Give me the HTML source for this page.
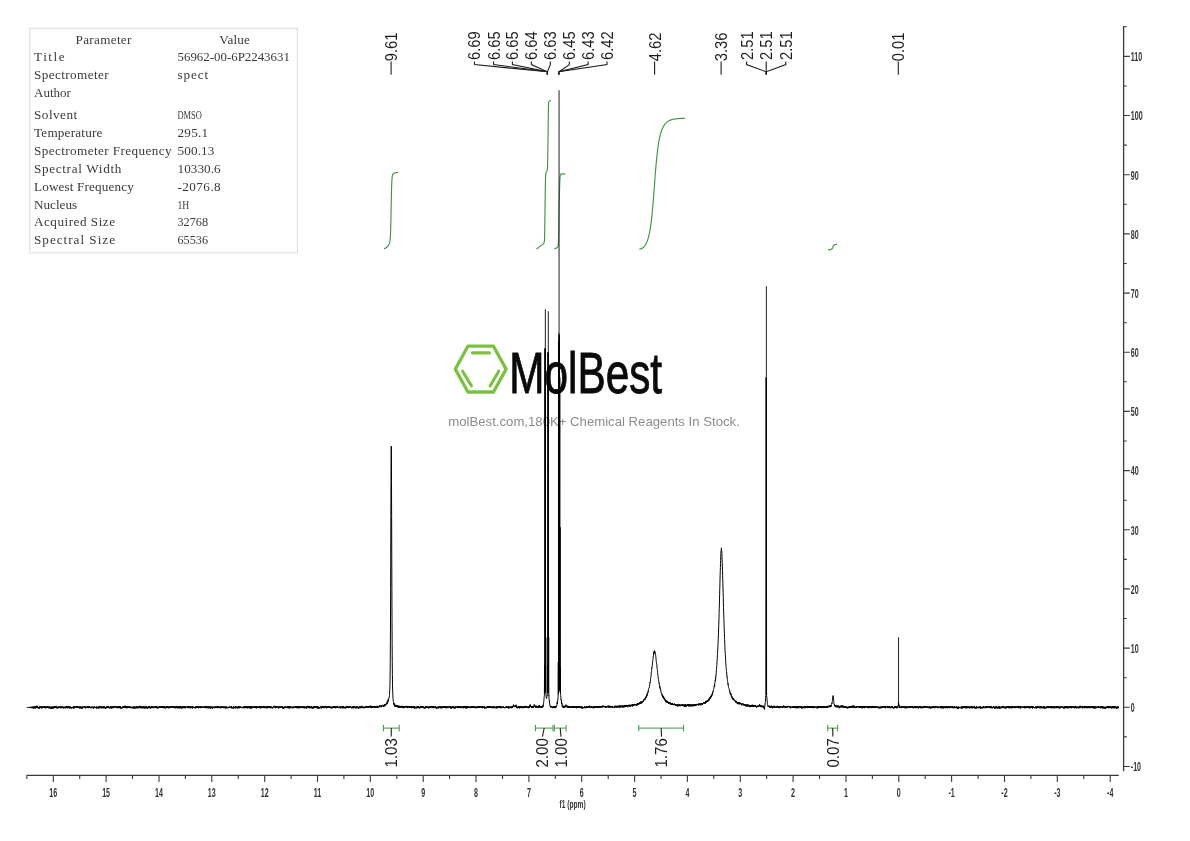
<!DOCTYPE html>
<html lang="en"><head><meta charset="utf-8"><title>1H NMR 56962-00-6P2243631</title>
<style>
html,body{margin:0;padding:0;background:#fff;}
body{width:1190px;height:841px;overflow:hidden;position:relative;font-family:"Liberation Sans",sans-serif;}
svg{position:absolute;left:0;top:0;display:block;will-change:transform;}
text{font-family:"Liberation Sans",sans-serif;}
.ax{fill:#333;font-size:13.4px;font-weight:bold;}
.pk{fill:#1e1e1e;font-size:15.8px;}
.tb{font-family:"Liberation Serif","Noto Serif CJK SC",serif;font-size:13.2px;fill:#3a3a3a;}
</style></head><body>
<svg width="1190" height="841" viewBox="0 0 1190 841">
<rect width="1190" height="841" fill="#fff"/>
<rect x="29.8" y="28.3" width="267.6" height="224.5" fill="#fff" stroke="#dedede" stroke-width="1.1"/>
<text class="tb" x="103.5" y="43.9" text-anchor="middle" textLength="55.8" lengthAdjust="spacing">Parameter</text>
<text class="tb" x="234.6" y="43.9" text-anchor="middle" textLength="30.6" lengthAdjust="spacing">Value</text>
<text class="tb" x="34.0" y="61.3" text-anchor="start" textLength="30.6" lengthAdjust="spacing">Title</text>
<text class="tb" x="177.5" y="61.3" text-anchor="start" textLength="112.4" lengthAdjust="spacingAndGlyphs">56962-00-6P2243631</text>
<text class="tb" x="34.0" y="79.2" text-anchor="start" textLength="74.7" lengthAdjust="spacing">Spectrometer</text>
<text class="tb" x="177.5" y="79.2" text-anchor="start" textLength="30.6" lengthAdjust="spacing">spect</text>
<text class="tb" x="34.0" y="97.3" text-anchor="start" textLength="36.9" lengthAdjust="spacingAndGlyphs">Author</text>
<text class="tb" x="34.0" y="119.2" text-anchor="start" textLength="43.2" lengthAdjust="spacing">Solvent</text>
<text class="tb" x="177.5" y="119.2" text-anchor="start" textLength="24.4" lengthAdjust="spacingAndGlyphs">DMSO</text>
<text class="tb" x="34.0" y="137.3" text-anchor="start" textLength="68.4" lengthAdjust="spacing">Temperature</text>
<text class="tb" x="177.5" y="137.3" text-anchor="start" textLength="30.6" lengthAdjust="spacing">295.1</text>
<text class="tb" x="34.0" y="155.1" text-anchor="start" textLength="137.6" lengthAdjust="spacing">Spectrometer Frequency</text>
<text class="tb" x="177.5" y="155.1" text-anchor="start" textLength="36.9" lengthAdjust="spacing">500.13</text>
<text class="tb" x="34.0" y="172.6" text-anchor="start" textLength="87.3" lengthAdjust="spacing">Spectral Width</text>
<text class="tb" x="177.5" y="172.6" text-anchor="start" textLength="43.2" lengthAdjust="spacing">10330.6</text>
<text class="tb" x="34.0" y="190.8" text-anchor="start" textLength="99.8" lengthAdjust="spacing">Lowest Frequency</text>
<text class="tb" x="177.5" y="190.8" text-anchor="start" textLength="43.2" lengthAdjust="spacing">-2076.8</text>
<text class="tb" x="34.0" y="208.6" text-anchor="start" textLength="43.2" lengthAdjust="spacingAndGlyphs">Nucleus</text>
<text class="tb" x="177.5" y="208.6" text-anchor="start" textLength="11.8" lengthAdjust="spacingAndGlyphs">1H</text>
<text class="tb" x="34.0" y="226.4" text-anchor="start" textLength="81.0" lengthAdjust="spacing">Acquired Size</text>
<text class="tb" x="177.5" y="226.4" text-anchor="start" textLength="30.6" lengthAdjust="spacingAndGlyphs">32768</text>
<text class="tb" x="34.0" y="244.2" text-anchor="start" textLength="81.0" lengthAdjust="spacing">Spectral Size</text>
<text class="tb" x="177.5" y="244.2" text-anchor="start" textLength="30.6" lengthAdjust="spacingAndGlyphs">65536</text>
<g fill="none" stroke="#7ac142" stroke-width="3.3" stroke-linejoin="round" stroke-linecap="round">
<polygon points="455.3,369.1 467.9,346.2 493.5,346.2 506.1,369.1 493.5,392 467.9,392"/>
<path d="M472.5,352.9H489.5M462.6,371.2L471.4,385.8M498.8,371.2L490.2,385.8" stroke-width="3.1"/>
</g>
<text x="509.3" y="393.4" font-size="57.8" fill="#0a0a0a" stroke="#0a0a0a" stroke-width="0.9" textLength="152.8" lengthAdjust="spacingAndGlyphs">MolBest</text>
<text x="448.3" y="425.8" font-size="12.2" fill="#8c8c8c" textLength="291.5" lengthAdjust="spacingAndGlyphs">molBest.com,180K+ Chemical Reagents In Stock.</text>
<g fill="none" stroke="#3f963f" stroke-width="1.15">
<path d="M383.90,248.9 384.15,248.8 384.40,248.7 384.65,248.6 384.90,248.5 385.15,248.3 385.40,248.2 385.65,248.0 385.90,247.9 386.15,247.7 386.40,247.5 386.65,247.3 386.90,247.0 387.15,246.8 387.40,246.5 387.65,246.3 387.90,245.9 388.15,245.6 388.40,245.2 388.65,244.8 388.90,244.4 389.15,243.9 389.40,243.3 389.65,242.5 389.90,241.4 390.15,239.5 390.40,236.1 390.65,229.8 390.90,219.8 391.15,207.1 391.40,194.7 391.65,185.6 391.90,180.0 392.15,177.1 392.40,175.6 392.65,174.8 392.90,174.3 393.15,173.9 393.40,173.6 393.65,173.5 393.90,173.3 394.15,173.2 394.40,173.1 394.65,173.0 394.90,173.0 395.15,172.9 395.40,172.9 395.65,172.8 395.90,172.8 396.15,172.7 396.40,172.7 396.65,172.6 396.90,172.6 397.15,172.6 397.40,172.6 397.65,172.5 397.90,172.5 398.15,172.5"/>
<path d="M536.50,249.0 536.75,248.9 537.00,248.7 537.25,248.5 537.50,248.3 537.75,248.2 538.00,248.0 538.25,247.8 538.50,247.6 538.75,247.4 539.00,247.1 539.25,246.8 539.50,246.6 539.75,246.4 540.00,246.3 540.25,246.1 540.50,245.9 540.75,245.8 541.00,245.6 541.25,245.4 541.50,245.3 541.75,245.1 542.00,244.9 542.25,244.7 542.50,244.6 542.75,244.4 543.00,244.2 543.25,243.9 543.50,243.6 543.75,243.2 544.00,242.9 544.25,242.0 544.50,239.2 544.75,229.7 545.00,211.7 545.25,192.9 545.50,179.2 545.75,174.4 546.00,172.8 546.25,172.3 546.50,171.9 546.75,171.5 547.00,171.0 547.25,170.1 547.50,167.2 547.75,157.7 548.00,138.3 548.25,117.4 548.50,105.8 548.75,102.2 549.00,101.4 549.25,101.1 549.50,100.9 549.75,100.7 550.00,100.7 550.25,100.6 550.50,100.6 550.75,100.6 551.00,100.6"/>
<path d="M554.30,249.1 554.55,248.9 554.80,248.8 555.05,248.7 555.30,248.6 555.55,248.4 555.80,248.3 556.05,248.2 556.30,248.0 556.55,247.9 556.80,247.7 557.05,247.6 557.30,247.4 557.55,247.1 557.80,246.9 558.05,246.3 558.30,244.4 558.55,237.5 558.80,223.8 559.05,207.1 559.30,197.0 559.55,189.2 559.80,181.8 560.05,177.1 560.30,175.1 560.55,174.5 560.80,174.3 561.05,174.1 561.30,174.0 561.55,174.0 561.80,173.9 562.05,173.9 562.30,173.9 562.55,173.9 562.80,173.9 563.05,173.9 563.30,173.9 563.55,173.9 563.80,173.9 564.05,173.9 564.30,174.0 564.55,174.0 564.80,174.0 565.05,174.0 565.30,174.0 565.55,174.0"/>
<path d="M639.20,249.3 639.45,249.2 639.70,249.2 639.95,249.1 640.20,249.1 640.45,249.0 640.70,248.9 640.95,248.9 641.20,248.8 641.45,248.6 641.70,248.5 641.95,248.4 642.20,248.2 642.45,248.1 642.70,247.9 642.95,247.7 643.20,247.5 643.45,247.3 643.70,247.1 643.95,246.8 644.20,246.5 644.45,246.2 644.70,245.9 644.95,245.6 645.20,245.2 645.45,244.8 645.70,244.4 645.95,243.9 646.20,243.5 646.45,242.9 646.70,242.4 646.95,241.8 647.20,241.2 647.45,240.5 647.70,239.8 647.95,239.0 648.20,238.1 648.45,237.2 648.70,236.3 648.95,235.2 649.20,234.1 649.45,233.0 649.70,231.7 649.95,230.3 650.20,228.9 650.45,227.3 650.70,225.6 650.95,223.8 651.20,221.9 651.45,219.8 651.70,217.6 651.95,215.3 652.20,212.8 652.45,210.2 652.70,207.5 652.95,204.6 653.20,201.5 653.45,198.4 653.70,195.2 653.95,191.9 654.20,188.6 654.45,185.2 654.70,181.9 654.95,178.5 655.20,175.3 655.45,172.1 655.70,169.0 655.95,166.1 656.20,163.3 656.45,160.6 656.70,158.0 656.95,155.6 657.20,153.4 657.45,151.2 657.70,149.2 657.95,147.4 658.20,145.6 658.45,144.0 658.70,142.5 658.95,141.0 659.20,139.7 659.45,138.4 659.70,137.3 659.95,136.2 660.20,135.2 660.45,134.2 660.70,133.3 660.95,132.5 661.20,131.7 661.45,131.0 661.70,130.3 661.95,129.6 662.20,129.0 662.45,128.4 662.70,127.9 662.95,127.4 663.20,126.9 663.45,126.4 663.70,126.0 663.95,125.6 664.20,125.2 664.45,124.9 664.70,124.5 664.95,124.2 665.20,123.9 665.45,123.6 665.70,123.3 665.95,123.1 666.20,122.8 666.45,122.6 666.70,122.3 666.95,122.1 667.20,121.9 667.45,121.7 667.70,121.6 667.95,121.4 668.20,121.2 668.45,121.1 668.70,120.9 668.95,120.8 669.20,120.7 669.45,120.5 669.70,120.4 669.95,120.3 670.20,120.2 670.45,120.1 670.70,120.0 670.95,119.9 671.20,119.8 671.45,119.7 671.70,119.7 671.95,119.6 672.20,119.5 672.45,119.5 672.70,119.4 672.95,119.3 673.20,119.3 673.45,119.2 673.70,119.2 673.95,119.1 674.20,119.1 674.45,119.0 674.70,119.0 674.95,119.0 675.20,118.9 675.45,118.9 675.70,118.8 675.95,118.8 676.20,118.8 676.45,118.8 676.70,118.7 676.95,118.7 677.20,118.7 677.45,118.7 677.70,118.6 677.95,118.6 678.20,118.6 678.45,118.6 678.70,118.6 678.95,118.5 679.20,118.5 679.45,118.5 679.70,118.5 679.95,118.5 680.20,118.5 680.45,118.4 680.70,118.4 680.95,118.4 681.20,118.4 681.45,118.4 681.70,118.4 681.95,118.4 682.20,118.3 682.45,118.3 682.70,118.3 682.95,118.3 683.20,118.3 683.45,118.3 683.70,118.3 683.95,118.3 684.20,118.2 684.45,118.2 684.70,118.2 684.95,118.2"/>
<path d="M828.00,249.8 828.25,249.8 828.50,249.8 828.75,249.8 829.00,249.7 829.25,249.7 829.50,249.7 829.75,249.7 830.00,249.6 830.25,249.6 830.50,249.5 830.75,249.5 831.00,249.4 831.25,249.3 831.50,249.2 831.75,249.0 832.00,248.8 832.25,248.4 832.50,248.0 832.75,247.4 833.00,246.7 833.25,246.1 833.50,245.7 833.75,245.4 834.00,245.1 834.25,244.9 834.50,244.8 834.75,244.7 835.00,244.6 835.25,244.6 835.50,244.5 835.75,244.5 836.00,244.5 836.25,244.4 836.50,244.4 836.75,244.4 837.00,244.4"/>
</g>
<path d="M27,707.3 27.125,707.1 27.25,707.2 27.375,707.5 27.5,707.5 27.625,707.1 27.75,707.6 27.875,707.2 28,707.2 28.125,707.4 28.25,707.5 28.375,707.4 28.5,707.5 28.625,707.4 28.75,707.4 28.875,707.3 29,707 29.125,707.2 29.25,707.3 29.375,707 29.5,707.7 29.625,707.6 29.75,707.2 29.875,707.8 30,707.7 30.125,707.2 30.25,707.3 30.375,706.8 30.5,707.1 30.625,707.2 30.75,707.2 30.875,707.5 31,707.9 31.125,707.8 31.25,707.1 31.375,707.8 31.5,707.6 31.625,708.2 31.75,706.9 31.875,708 32,707.8 32.125,706.8 32.25,707.5 32.375,706.8 32.5,707.1 32.625,706.9 32.75,708.3 32.875,707.3 33,707.4 33.125,706.6 33.25,707.7 33.375,707.1 33.5,708.4 33.625,707.7 33.75,707.7 33.875,708.2 34,706.7 34.125,707.7 34.25,706.4 34.375,707.4 34.5,707.5 34.625,707.4 34.75,707.3 34.875,708.4 35,707.7 35.125,708.1 35.25,707.8 35.375,708.3 35.5,706.5 35.625,708 35.75,706.9 35.875,707.5 36,706.1 36.125,706.5 36.25,707.6 36.375,706.1 36.5,705.8 36.625,706 36.75,706.7 36.875,707.6 37,707.5 37.125,705.9 37.25,707 37.375,707.9 37.5,706.5 37.625,707 37.75,707.2 37.875,707.6 38,707.7 38.125,708.1 38.25,708.5 38.375,706.9 38.5,707.6 38.625,707.6 38.75,707.9 38.875,707 39,708.5 39.125,707.7 39.25,708.5 39.375,708.3 39.5,706.5 39.625,707.2 39.75,707.7 39.875,707.5 40,706.8 40.125,707.9 40.25,707.4 40.375,707.1 40.5,707.8 40.625,707.4 40.75,706.8 40.875,706.4 41,708.1 41.125,706.3 41.25,708.2 41.375,706.6 41.5,706.4 41.625,707.9 41.75,707.3 41.875,706.7 42,708.4 42.125,707.2 42.25,706.8 42.375,707.3 42.5,706.8 42.625,707.9 42.75,708 42.875,707.6 43,707.9 43.125,707.5 43.25,706.3 43.375,707 43.5,707.2 43.625,707.4 43.75,706.2 43.875,707.3 44,706.1 44.125,707.1 44.25,707.1 44.375,706.3 44.5,706.8 44.625,707.2 44.75,707.5 44.875,706.6 45,707.7 45.125,706.7 45.25,708.4 45.375,707.8 45.5,707.6 45.625,706.7 45.75,708.2 45.875,707 46,707.2 46.125,707.1 46.25,707.1 46.375,706.3 46.5,707.7 46.625,707.4 46.75,707.8 46.875,708 47,707.6 47.125,706 47.25,706.3 47.375,707.9 47.5,706.8 47.625,707.1 47.75,706.9 47.875,706.8 48,707.5 48.125,706.2 48.25,707.4 48.375,707.1 48.5,707.1 48.625,708.1 48.75,708.3 48.875,707.5 49,706.8 49.125,706.7 49.25,707 49.375,708.3 49.5,706.6 49.625,706.8 49.75,706.6 49.875,707.4 50,706.7 50.125,708.4 50.25,708.6 50.375,708.8 50.5,708.3 50.625,708.2 50.75,708.3 50.875,707.4 51,708.5 51.125,707.4 51.25,708.3 51.375,707.1 51.5,708.5 51.625,708 51.75,706.5 51.875,707.2 52,706.7 52.125,707.1 52.25,707.2 52.375,708.1 52.5,707.4 52.625,708.4 52.75,706.9 52.875,706.6 53,706.9 53.125,708.6 53.25,707.9 53.375,707.9 53.5,708.2 53.625,707.1 53.75,706.7 53.875,707.7 54,706.5 54.125,706.7 54.25,707.9 54.375,706.6 54.5,706.2 54.625,707.6 54.75,706.8 54.875,706.8 55,706.9 55.125,708.1 55.25,706.9 55.375,707 55.5,706.6 55.625,706.7 55.75,707.5 55.875,706.7 56,706.4 56.125,706.3 56.25,708 56.375,708.3 56.5,706.9 56.625,707.9 56.75,707.1 56.875,706.3 57,707.6 57.125,707.8 57.25,707.6 57.375,707.2 57.5,708.4 57.625,707.9 57.75,708.3 57.875,707 58,706.7 58.125,707.5 58.25,707.5 58.375,707.2 58.5,707.8 58.625,707.7 58.75,707.4 58.875,707.1 59,707.9 59.125,706.3 59.25,706.8 59.375,707.5 59.5,708 59.625,706.6 59.75,707.9 59.875,707.9 60,708 60.125,708.2 60.25,706.5 60.375,707.9 60.5,707.8 60.625,706.8 60.75,707.2 60.875,708.1 61,707.7 61.125,706.6 61.25,707.6 61.375,706.9 61.5,708.1 61.625,706.7 61.75,706.4 61.875,706.4 62,706.7 62.125,707.4 62.25,708 62.375,707.1 62.5,706.6 62.625,708 62.75,707.8 62.875,707.2 63,706.9 63.125,706.8 63.25,708.5 63.375,708.3 63.5,707 63.625,707.3 63.75,707.3 63.875,706.6 64,706.8 64.125,706.9 64.25,707.2 64.375,708 64.5,707.4 64.625,708.2 64.75,706.9 64.875,707 65,707.1 65.125,707.6 65.25,707.6 65.375,707.5 65.5,708.3 65.625,706.5 65.75,707 65.875,707.3 66,706.9 66.125,706.7 66.25,707.5 66.375,706.6 66.5,706.4 66.625,707.6 66.75,708.1 66.875,706.7 67,706.2 67.125,708.1 67.25,706.9 67.375,706.6 67.5,706.5 67.625,708.2 67.75,708.1 67.875,706.2 68,707.9 68.125,707.9 68.25,707 68.375,707.3 68.5,706.7 68.625,707.8 68.75,706.4 68.875,707.9 69,706.7 69.125,708.2 69.25,707.5 69.375,708.3 69.5,707.7 69.625,707.6 69.75,706.8 69.875,707.4 70,708.2 70.125,706.2 70.25,706.4 70.375,706.4 70.5,707.8 70.625,707.6 70.75,707.9 70.875,708.2 71,708.4 71.125,707.5 71.25,708.3 71.375,708.3 71.5,707 71.625,707.7 71.75,708.3 71.875,707.2 72,708.1 72.125,707.5 72.25,707.9 72.375,707.4 72.5,707.1 72.625,707.4 72.75,707.8 72.875,707 73,706.8 73.125,708.3 73.25,708.3 73.375,708.3 73.5,706.5 73.625,706.6 73.75,708.1 73.875,706.5 74,708.1 74.125,707.4 74.25,707.3 74.375,706.3 74.5,708.1 74.625,707.6 74.75,707.1 74.875,708.2 75,707.8 75.125,707.4 75.25,706.5 75.375,706.8 75.5,706.7 75.625,706.8 75.75,706.9 75.875,706.5 76,706.8 76.125,706.6 76.25,707.5 76.375,707.8 76.5,706.6 76.625,707.7 76.75,706.1 76.875,706.8 77,707.2 77.125,706.1 77.25,707.8 77.375,707.1 77.5,708.1 77.625,706.4 77.75,707.2 77.875,706.7 78,707.7 78.125,706.8 78.25,707 78.375,707.2 78.5,706.6 78.625,707.6 78.75,707.6 78.875,707 79,706.7 79.125,707.7 79.25,707 79.375,708.1 79.5,707.4 79.625,707 79.75,708.4 79.875,706.9 80,708.5 80.125,706.5 80.25,707.4 80.375,707.6 80.5,706.9 80.625,707.3 80.75,706.8 80.875,708.1 81,707.1 81.125,707.2 81.25,706.5 81.375,708.4 81.5,707.6 81.625,707.2 81.75,707.4 81.875,708.5 82,707.5 82.125,708.3 82.25,708.3 82.375,706.9 82.5,708.3 82.625,707.6 82.75,706.9 82.875,706.9 83,707.1 83.125,706.6 83.25,707.4 83.375,707 83.5,706.5 83.625,706.8 83.75,706.7 83.875,707.2 84,707 84.125,707.4 84.25,706.7 84.375,707.5 84.5,707.3 84.625,706.7 84.75,707.2 84.875,707.5 85,706.5 85.125,707.5 85.25,706.6 85.375,706.7 85.5,707.4 85.625,706.9 85.75,708.4 85.875,707.6 86,706.6 86.125,707.2 86.25,707.2 86.375,706.9 86.5,706.9 86.625,707 86.75,707.4 86.875,707.9 87,707.6 87.125,707.5 87.25,707.2 87.375,706.1 87.5,707.6 87.625,707.4 87.75,707.5 87.875,707.1 88,706.4 88.125,706.6 88.25,707.7 88.375,707.8 88.5,706.5 88.625,707.4 88.75,707 88.875,708.2 89,706.5 89.125,707.7 89.25,707.3 89.375,707.9 89.5,707.4 89.625,706.5 89.75,706.6 89.875,707.5 90,707 90.125,707.6 90.25,707.7 90.375,707.3 90.5,708 90.625,707.7 90.75,706.9 90.875,706.7 91,708.3 91.125,707 91.25,706.8 91.375,707.4 91.5,708 91.625,706.8 91.75,707.7 91.875,707 92,707.6 92.125,707.2 92.25,708 92.375,707.6 92.5,707.4 92.625,707.2 92.75,708.1 92.875,706.5 93,708 93.125,708 93.25,708.1 93.375,708.6 93.5,707.8 93.625,706.9 93.75,707.1 93.875,708.1 94,708.2 94.125,707.9 94.25,706.9 94.375,707.4 94.5,706.5 94.625,707 94.75,707.1 94.875,706.7 95,706.8 95.125,707.7 95.25,707.8 95.375,707.3 95.5,707.2 95.625,707.9 95.75,707.3 95.875,707 96,708.1 96.125,708.1 96.25,708.1 96.375,707.9 96.5,706.5 96.625,708.4 96.75,708.2 96.875,708.1 97,707.5 97.125,708.5 97.25,707.5 97.375,708 97.5,707.8 97.625,706.8 97.75,708 97.875,707.1 98,707.5 98.125,707.5 98.25,706.6 98.375,708.2 98.5,706.6 98.625,706.6 98.75,707 98.875,708.4 99,707.1 99.125,707.2 99.25,706.9 99.375,707.9 99.5,706.4 99.625,706.5 99.75,708.1 99.875,707.6 100,708.2 100.125,706.5 100.25,706.3 100.375,706.2 100.5,706.9 100.625,706.9 100.75,706.8 100.875,707.1 101,706.2 101.125,707.1 101.25,707.6 101.375,707.3 101.5,708.3 101.625,706.8 101.75,707.1 101.875,707.6 102,706.6 102.125,706.9 102.25,707.8 102.375,708.3 102.5,708.2 102.625,708 102.75,707.8 102.875,707.5 103,706.6 103.125,708 103.25,706.5 103.375,706.9 103.5,706.6 103.625,707.4 103.75,708.3 103.875,706.7 104,707.8 104.125,708.1 104.25,706.8 104.375,706.9 104.5,708 104.625,707.8 104.75,706.6 104.875,708 105,707.1 105.125,708.3 105.25,707 105.375,708.4 105.5,707.6 105.625,708.6 105.75,707.5 105.875,706.9 106,708.4 106.125,708 106.25,707 106.375,707.3 106.5,707.9 106.625,707.1 106.75,707.3 106.875,706.4 107,707.5 107.125,706.5 107.25,706.7 107.375,706.6 107.5,707.4 107.625,706.6 107.75,706.6 107.875,707.2 108,708 108.125,706.2 108.25,706.8 108.375,707.9 108.5,706.9 108.625,707.8 108.75,707.4 108.875,706.6 109,707.5 109.125,708 109.25,707.9 109.375,708.4 109.5,708.1 109.625,707.9 109.75,708.1 109.875,708.3 110,707.4 110.125,707.9 110.25,706.8 110.375,706.4 110.5,707.7 110.625,707 110.75,707.2 110.875,708.1 111,708.1 111.125,706.5 111.25,707.3 111.375,706.7 111.5,708.3 111.625,707.2 111.75,706.6 111.875,706.6 112,708.4 112.125,707.3 112.25,707.6 112.375,706.8 112.5,708.1 112.625,707.7 112.75,706.6 112.875,707.4 113,707.4 113.125,706.3 113.25,707.6 113.375,708.1 113.5,707.4 113.625,707.8 113.75,708 113.875,706.9 114,706.1 114.125,706.9 114.25,706.7 114.375,707.2 114.5,706.7 114.625,706.3 114.75,706.7 114.875,706.3 115,706.9 115.125,707.7 115.25,706.8 115.375,707.1 115.5,707.8 115.625,706.9 115.75,706.5 115.875,708 116,707.1 116.125,706.7 116.25,707.4 116.375,707.8 116.5,707.5 116.625,707 116.75,706.8 116.875,707 117,708 117.125,706.5 117.25,706.3 117.375,708.1 117.5,707.9 117.625,708 117.75,706.6 117.875,706.4 118,708.2 118.125,707.7 118.25,707.9 118.375,707.3 118.5,706.4 118.625,708.2 118.75,707.8 118.875,707.1 119,707 119.125,706.4 119.25,707.2 119.375,707.9 119.5,707.5 119.625,706.2 119.75,706.7 119.875,708 120,706.6 120.125,707.7 120.25,706.8 120.375,708.4 120.5,706.5 120.625,708.2 120.75,707.4 120.875,706.9 121,707.4 121.125,708.1 121.25,708.2 121.375,708 121.5,708.4 121.625,708 121.75,708.1 121.875,707.4 122,707.7 122.125,707.1 122.25,707.8 122.375,708.3 122.5,707.5 122.625,706.7 122.75,707.7 122.875,707.3 123,706.5 123.125,707.3 123.25,706.4 123.375,706.3 123.5,707.6 123.625,706.8 123.75,707.7 123.875,707.9 124,707.3 124.125,706.8 124.25,706 124.375,707.7 124.5,706.5 124.625,706.8 124.75,707.5 124.875,705.8 125,706.4 125.125,707.5 125.25,705.9 125.375,707.6 125.5,707.6 125.625,707.3 125.75,706.1 125.875,708 126,706.3 126.125,707 126.25,708.2 126.375,707.1 126.5,707.5 126.625,707.2 126.75,706.9 126.875,707.1 127,706.4 127.125,708.2 127.25,706.8 127.375,707.8 127.5,706.9 127.625,706.7 127.75,706.5 127.875,708 128,707.5 128.125,706.6 128.25,706.5 128.375,707.7 128.5,706.4 128.625,707.6 128.75,707.6 128.875,706.6 129,707.1 129.125,707.2 129.25,707.4 129.375,707.2 129.5,707.9 129.625,708.1 129.75,706.6 129.875,707 130,706.9 130.125,706.5 130.25,707.8 130.375,707.8 130.5,707.8 130.625,707.8 130.75,706.9 130.875,707.6 131,707.7 131.125,707 131.25,708 131.375,708.1 131.5,706.8 131.625,706.8 131.75,707.8 131.875,707 132,708.2 132.125,707.5 132.25,707.1 132.375,707.8 132.5,707.7 132.625,707.3 132.75,707.2 132.875,708.1 133,707.1 133.125,708.3 133.25,706.5 133.375,708.3 133.5,708.2 133.625,708.2 133.75,706.5 133.875,707.9 134,707.2 134.125,706.3 134.25,706.5 134.375,708.4 134.5,707.2 134.625,707 134.75,706.8 134.875,707.5 135,707.5 135.125,708.3 135.25,708.2 135.375,707.2 135.5,708.2 135.625,708 135.75,707.6 135.875,708.2 136,708.4 136.125,706.4 136.25,707.4 136.375,707.9 136.5,706.8 136.625,708.1 136.75,707.6 136.875,706.2 137,706.3 137.125,706.9 137.25,708 137.375,707.5 137.5,708.2 137.625,707.8 137.75,708.2 137.875,708 138,706.9 138.125,708.1 138.25,708.1 138.375,706.4 138.5,707.5 138.625,707.4 138.75,707.9 138.875,706.5 139,706.7 139.125,706.9 139.25,706.7 139.375,707.7 139.5,707.5 139.625,706.7 139.75,705.8 139.875,706.2 140,706.8 140.125,707.1 140.25,708.2 140.375,706.3 140.5,708.1 140.625,708 140.75,706.9 140.875,706.7 141,706.7 141.125,707.4 141.25,708.1 141.375,708.3 141.5,706.5 141.625,706.2 141.75,707.7 141.875,706.4 142,707.3 142.125,707.5 142.25,707.1 142.375,708.2 142.5,707.3 142.625,707.8 142.75,706.8 142.875,707.3 143,706.5 143.125,706.5 143.25,707.6 143.375,707.7 143.5,706.4 143.625,707.4 143.75,708.2 143.875,708.4 144,706.5 144.125,707.3 144.25,708.4 144.375,707.4 144.5,707.4 144.625,707.6 144.75,706.6 144.875,706.6 145,708.4 145.125,708.1 145.25,707.6 145.375,706.6 145.5,707 145.625,706.8 145.75,707.2 145.875,707.9 146,706.6 146.125,708.3 146.25,706.8 146.375,707.9 146.5,707.3 146.625,706.2 146.75,707 146.875,708.2 147,707.4 147.125,707.1 147.25,708.3 147.375,707.9 147.5,708.5 147.625,707.4 147.75,707.7 147.875,707.5 148,707.9 148.125,707.2 148.25,708.2 148.375,706.4 148.5,706.3 148.625,707.2 148.75,707.3 148.875,706.5 149,707.6 149.125,706.4 149.25,707.5 149.375,706.6 149.5,707.5 149.625,707 149.75,706.4 149.875,708.2 150,706.7 150.125,707.4 150.25,707.6 150.375,707.8 150.5,708.4 150.625,708.1 150.75,707.3 150.875,708.3 151,707.1 151.125,706.4 151.25,706.3 151.375,706.6 151.5,706.5 151.625,707.7 151.75,706.1 151.875,707.7 152,706.3 152.125,706.3 152.25,706.8 152.375,707.1 152.5,707.8 152.625,707.1 152.75,707.6 152.875,708 153,708 153.125,706.7 153.25,706.4 153.375,707.9 153.5,708.2 153.625,707.6 153.75,707.8 153.875,707.6 154,706.8 154.125,707.2 154.25,707.3 154.375,707.7 154.5,706.8 154.625,707.6 154.75,707.3 154.875,707.3 155,706.3 155.125,707.7 155.25,706.7 155.375,707.5 155.5,706.4 155.625,707.5 155.75,707.1 155.875,706.4 156,706.7 156.125,707.9 156.25,707.9 156.375,706 156.5,708 156.625,707.5 156.75,706.2 156.875,708.3 157,707.9 157.125,707.8 157.25,708.1 157.375,707.4 157.5,707.2 157.625,707.8 157.75,708.3 157.875,706.8 158,706.9 158.125,707.3 158.25,708.2 158.375,707.3 158.5,707.1 158.625,707.5 158.75,706.6 158.875,707.5 159,707.2 159.125,708 159.25,707 159.375,706.6 159.5,706.6 159.625,707.6 159.75,706 159.875,706.6 160,707.2 160.125,707.2 160.25,706.4 160.375,707.7 160.5,706.8 160.625,706.7 160.75,707 160.875,706.1 161,707.1 161.125,707.1 161.25,707.5 161.375,706.1 161.5,707.5 161.625,706.6 161.75,707.3 161.875,706.1 162,706 162.125,707.9 162.25,706 162.375,706.9 162.5,708 162.625,707.1 162.75,708.1 162.875,707 163,707.7 163.125,707.4 163.25,707.6 163.375,707 163.5,706.6 163.625,706.3 163.75,707.4 163.875,706.9 164,708.2 164.125,707.5 164.25,706.3 164.375,708.1 164.5,706.5 164.625,707 164.75,707.7 164.875,706.8 165,707.9 165.125,706.6 165.25,708.4 165.375,708.3 165.5,707 165.625,707.6 165.75,708.2 165.875,707.3 166,707.8 166.125,707.2 166.25,706.8 166.375,706.5 166.5,708 166.625,706.9 166.75,706.2 166.875,707.2 167,706.6 167.125,708 167.25,706.4 167.375,707.1 167.5,706.4 167.625,706.6 167.75,706.4 167.875,708.1 168,706.9 168.125,708 168.25,707.8 168.375,707.8 168.5,707.1 168.625,707.1 168.75,706.4 168.875,708.4 169,708 169.125,707.7 169.25,706.7 169.375,707.2 169.5,707.2 169.625,706.6 169.75,706.7 169.875,707.4 170,707.8 170.125,707 170.25,706.1 170.375,706.6 170.5,707.8 170.625,707.1 170.75,707.2 170.875,706.8 171,706.9 171.125,706.1 171.25,707.5 171.375,707.4 171.5,707 171.625,706.4 171.75,706.8 171.875,707.3 172,706.6 172.125,707.2 172.25,706.2 172.375,707.5 172.5,707.9 172.625,706.3 172.75,707.5 172.875,706.3 173,706.8 173.125,707 173.25,707.9 173.375,706.5 173.5,708 173.625,706.2 173.75,706.4 173.875,707.6 174,707.9 174.125,706.4 174.25,707.2 174.375,708.1 174.5,707.3 174.625,707.9 174.75,707.6 174.875,707 175,706.6 175.125,706.9 175.25,708.2 175.375,707.5 175.5,707.5 175.625,706.4 175.75,708.2 175.875,707.2 176,706.3 176.125,707.2 176.25,707.6 176.375,707.1 176.5,707.5 176.625,706.2 176.75,708 176.875,707.8 177,708.1 177.125,706.8 177.25,707.7 177.375,706.5 177.5,706.6 177.625,706.6 177.75,707.8 177.875,708.3 178,707.5 178.125,706.2 178.25,706.7 178.375,708.1 178.5,706.8 178.625,706.4 178.75,706.4 178.875,706.8 179,706.5 179.125,706.6 179.25,707.6 179.375,708.2 179.5,707 179.625,708.3 179.75,707.7 179.875,706.4 180,707.2 180.125,707.3 180.25,706.4 180.375,707.8 180.5,706.3 180.625,706.5 180.75,707.6 180.875,707.8 181,708.2 181.125,706.6 181.25,708.1 181.375,708.5 181.5,706.6 181.625,707.2 181.75,707 181.875,706.9 182,708.3 182.125,708.2 182.25,707.4 182.375,708.2 182.5,707.2 182.625,706.6 182.75,706.9 182.875,706.9 183,708 183.125,707.6 183.25,706.3 183.375,707.9 183.5,707.1 183.625,708.1 183.75,706.2 183.875,707.8 184,707.3 184.125,707.1 184.25,706.7 184.375,706.3 184.5,706.8 184.625,707.6 184.75,708.1 184.875,706.8 185,706.3 185.125,708.3 185.25,706.6 185.375,708 185.5,707.3 185.625,707.2 185.75,707 185.875,706.2 186,706.8 186.125,707.5 186.25,706.9 186.375,707.3 186.5,707.5 186.625,707.5 186.75,707.4 186.875,707.8 187,707.8 187.125,707.8 187.25,707.2 187.375,707.6 187.5,706.5 187.625,706.4 187.75,707.4 187.875,706.8 188,706.2 188.125,707.4 188.25,706.9 188.375,707.2 188.5,706.8 188.625,706.3 188.75,708.1 188.875,706.3 189,707 189.125,706.8 189.25,707.2 189.375,706.7 189.5,707.7 189.625,706.9 189.75,707.8 189.875,707.4 190,707.1 190.125,708.1 190.25,708.3 190.375,706.7 190.5,706.5 190.625,706.7 190.75,707.3 190.875,706.7 191,707.9 191.125,706.8 191.25,707 191.375,706.8 191.5,707.2 191.625,707.7 191.75,706.7 191.875,707.3 192,706.9 192.125,707.7 192.25,708.4 192.375,707.3 192.5,707.1 192.625,706.4 192.75,706.4 192.875,708.2 193,706.8 193.125,707.8 193.25,706.8 193.375,707.5 193.5,707.6 193.625,707.3 193.75,707.1 193.875,706.9 194,707 194.125,707.1 194.25,707.9 194.375,707.1 194.5,707.7 194.625,707.2 194.75,707.4 194.875,707.1 195,708.3 195.125,707.2 195.25,707.8 195.375,707.4 195.5,708.2 195.625,706.8 195.75,706.2 195.875,707.3 196,707.8 196.125,706.7 196.25,707.9 196.375,706.3 196.5,708 196.625,707.5 196.75,707.2 196.875,708 197,707.5 197.125,707.5 197.25,706.6 197.375,706.1 197.5,707.6 197.625,706.6 197.75,708 197.875,707.1 198,707.4 198.125,707.8 198.25,706.7 198.375,707 198.5,708.3 198.625,708.1 198.75,706.9 198.875,706.5 199,707.2 199.125,706.7 199.25,706.4 199.375,706.9 199.5,707.1 199.625,708 199.75,707.5 199.875,706.8 200,706.3 200.125,707.5 200.25,707.3 200.375,708.1 200.5,706.5 200.625,707.1 200.75,706.3 200.875,707.5 201,706.6 201.125,706.6 201.25,707.2 201.375,707.9 201.5,707.3 201.625,706.7 201.75,708 201.875,708.1 202,707.5 202.125,708 202.25,706.9 202.375,706.9 202.5,706.6 202.625,706.7 202.75,707.1 202.875,708 203,706.8 203.125,706.9 203.25,706.9 203.375,706.9 203.5,706.6 203.625,707.6 203.75,706.8 203.875,707.1 204,707.5 204.125,707.5 204.25,707.8 204.375,707 204.5,707.1 204.625,707.1 204.75,706.3 204.875,706.7 205,706.7 205.125,706 205.25,707.6 205.375,707.2 205.5,708.1 205.625,707.4 205.75,706.3 205.875,708.2 206,706.9 206.125,706.7 206.25,707.4 206.375,706.7 206.5,707.5 206.625,707.9 206.75,707.6 206.875,708.1 207,707.9 207.125,708 207.25,706.4 207.375,707.7 207.5,708 207.625,706.3 207.75,708.1 207.875,706.4 208,706.6 208.125,707.1 208.25,707.5 208.375,708.1 208.5,708.3 208.625,708.2 208.75,707.7 208.875,707.6 209,706.5 209.125,707.3 209.25,706.4 209.375,706.9 209.5,708.1 209.625,707.2 209.75,708 209.875,708.2 210,706.2 210.125,707.6 210.25,708.1 210.375,708.3 210.5,707 210.625,707.4 210.75,708.3 210.875,706.9 211,707.8 211.125,706.7 211.25,707.4 211.375,707.3 211.5,707.7 211.625,707.2 211.75,706.5 211.875,706.9 212,708.4 212.125,707.6 212.25,708.2 212.375,708.6 212.5,708.5 212.625,708.3 212.75,706.7 212.875,707.1 213,706.7 213.125,707 213.25,707.8 213.375,707.6 213.5,707.5 213.625,707.8 213.75,707.5 213.875,706.8 214,708.1 214.125,707.8 214.25,707.3 214.375,706.8 214.5,706.8 214.625,706.7 214.75,708.1 214.875,707.8 215,707.6 215.125,707.8 215.25,706.7 215.375,706.2 215.5,706.8 215.625,708.1 215.75,707.6 215.875,706.6 216,706.3 216.125,707 216.25,707.5 216.375,707.5 216.5,706.9 216.625,706.4 216.75,707.4 216.875,707.7 217,708.1 217.125,707.9 217.25,706.4 217.375,706.8 217.5,706 217.625,708 217.75,707.4 217.875,706.6 218,706.8 218.125,708.1 218.25,707.4 218.375,706.9 218.5,706.8 218.625,707.1 218.75,707.7 218.875,706.2 219,707.2 219.125,706.7 219.25,707.1 219.375,708 219.5,707.6 219.625,708 219.75,707.9 219.875,707.9 220,707.5 220.125,707.7 220.25,707.7 220.375,706.7 220.5,708.3 220.625,708.2 220.75,706.7 220.875,707.2 221,707.4 221.125,707.8 221.25,707.2 221.375,707.8 221.5,706.5 221.625,706.6 221.75,707.5 221.875,708.1 222,706.4 222.125,707.6 222.25,706.9 222.375,706.5 222.5,706.8 222.625,706.6 222.75,707.3 222.875,706.6 223,707.4 223.125,707.8 223.25,707.4 223.375,707.8 223.5,706.8 223.625,706.7 223.75,708.1 223.875,708 224,707.5 224.125,707.4 224.25,706.3 224.375,706.4 224.5,706.4 224.625,706.9 224.75,707 224.875,707.8 225,707.6 225.125,708.4 225.25,706.7 225.375,707.8 225.5,708.1 225.625,707.7 225.75,707.7 225.875,706.8 226,708.4 226.125,707.8 226.25,706.5 226.375,706.7 226.5,707.1 226.625,707.2 226.75,708 226.875,706.7 227,707 227.125,707.4 227.25,708.2 227.375,708 227.5,707.6 227.625,707.7 227.75,708.2 227.875,707.4 228,707.4 228.125,707.7 228.25,707.6 228.375,707.6 228.5,707.6 228.625,707.1 228.75,707.3 228.875,707.9 229,706.7 229.125,707.3 229.25,707.4 229.375,706.9 229.5,706.8 229.625,706.6 229.75,706.5 229.875,706.7 230,706.6 230.125,707.8 230.25,706.7 230.375,707.6 230.5,707.7 230.625,707.8 230.75,707.2 230.875,708 231,706.7 231.125,706.6 231.25,706.5 231.375,708 231.5,706.8 231.625,706.4 231.75,708.2 231.875,708 232,707.9 232.125,707.6 232.25,708.4 232.375,707.6 232.5,708 232.625,707.2 232.75,707.5 232.875,707.3 233,708.2 233.125,707.2 233.25,707.1 233.375,707 233.5,708.3 233.625,706.4 233.75,707.1 233.875,707.8 234,707.5 234.125,707.4 234.25,707.4 234.375,708 234.5,707.9 234.625,707.6 234.75,706.8 234.875,707.5 235,708.4 235.125,707.5 235.25,708 235.375,708.2 235.5,706.3 235.625,707.6 235.75,707.2 235.875,707.5 236,708.1 236.125,706.4 236.25,706.2 236.375,707.8 236.5,707.2 236.625,707.3 236.75,707.7 236.875,706.9 237,706.6 237.125,706.8 237.25,707 237.375,708.4 237.5,707.9 237.625,707.3 237.75,706.8 237.875,707.5 238,707.4 238.125,706.6 238.25,708.4 238.375,707.7 238.5,707.6 238.625,706.1 238.75,707.6 238.875,708.1 239,707.4 239.125,707.1 239.25,708.2 239.375,706.6 239.5,708 239.625,706.8 239.75,708 239.875,706.5 240,707.9 240.125,706.9 240.25,706.6 240.375,707.7 240.5,708 240.625,707 240.75,707.2 240.875,707.4 241,706.8 241.125,707.5 241.25,707.5 241.375,707.5 241.5,707.5 241.625,707.6 241.75,708.1 241.875,707.8 242,707.9 242.125,707.9 242.25,706.8 242.375,708.1 242.5,707.8 242.625,707.1 242.75,707.6 242.875,707.8 243,707.6 243.125,707.4 243.25,707.1 243.375,706.4 243.5,706.7 243.625,707.6 243.75,707.6 243.875,707.7 244,708 244.125,706.6 244.25,708.3 244.375,708.1 244.5,707 244.625,707.2 244.75,707.8 244.875,706.4 245,707.5 245.125,707 245.25,708.1 245.375,706.3 245.5,707.9 245.625,707.2 245.75,706.3 245.875,706 246,706.2 246.125,706.4 246.25,707.6 246.375,708 246.5,707.1 246.625,707.9 246.75,706.1 246.875,708.1 247,707.6 247.125,707.9 247.25,708.3 247.375,707.3 247.5,708.1 247.625,706.3 247.75,706.9 247.875,707.5 248,706.6 248.125,706.6 248.25,707.6 248.375,706.6 248.5,706.4 248.625,707.1 248.75,707.5 248.875,706.5 249,706.5 249.125,707.7 249.25,708.3 249.375,706.7 249.5,707.1 249.625,708.1 249.75,707.4 249.875,707.8 250,706.5 250.125,707.7 250.25,708.1 250.375,708.4 250.5,707.7 250.625,706.4 250.75,707.9 250.875,707.4 251,706.3 251.125,708.3 251.25,707.7 251.375,706.7 251.5,708.3 251.625,706.4 251.75,706.6 251.875,708.1 252,707 252.125,707.1 252.25,706.8 252.375,707.7 252.5,707.5 252.625,707.9 252.75,707.8 252.875,708 253,706.4 253.125,706.6 253.25,707.7 253.375,706.9 253.5,707.3 253.625,707.8 253.75,707.6 253.875,706.3 254,707.6 254.125,707 254.25,706.3 254.375,707.7 254.5,706.6 254.625,708 254.75,706.6 254.875,706.5 255,706.5 255.125,706.2 255.25,706.8 255.375,706.3 255.5,707.7 255.625,707.1 255.75,707.8 255.875,708.1 256,707.4 256.125,706.7 256.25,706.7 256.375,708.4 256.5,706.5 256.625,707.9 256.75,707.9 256.875,706.7 257,706.6 257.125,707 257.25,707.8 257.375,707.5 257.5,706.6 257.625,707.6 257.75,706.7 257.875,706.8 258,707.5 258.125,706.6 258.25,707.5 258.375,706.7 258.5,706.9 258.625,707.5 258.75,707 258.875,706.9 259,707.1 259.125,708 259.25,706.1 259.375,706.1 259.5,708 259.625,706 259.75,707.1 259.875,708.1 260,706.6 260.125,707.6 260.25,707 260.375,706.8 260.5,707.4 260.625,708.3 260.75,706.8 260.875,707 261,706.4 261.125,707.9 261.25,706.7 261.375,706.4 261.5,707.5 261.625,707.2 261.75,707.4 261.875,708.1 262,707.7 262.125,707.5 262.25,707.9 262.375,706.4 262.5,707.2 262.625,706.9 262.75,707.5 262.875,707.2 263,706.4 263.125,707 263.25,706.8 263.375,707.2 263.5,706.9 263.625,706.2 263.75,707.6 263.875,707.2 264,706.9 264.125,708.1 264.25,706.3 264.375,707.4 264.5,708 264.625,707 264.75,706.9 264.875,707.1 265,706.5 265.125,708.2 265.25,707.3 265.375,706.9 265.5,706.6 265.625,707.2 265.75,707.3 265.875,707.6 266,707.3 266.125,707.2 266.25,706.4 266.375,706.8 266.5,707 266.625,706.7 266.75,708.4 266.875,706.8 267,707.3 267.125,706.7 267.25,707.7 267.375,707.4 267.5,706.5 267.625,708.2 267.75,707.7 267.875,707.2 268,706.4 268.125,707.7 268.25,706.5 268.375,707.8 268.5,707.7 268.625,707.1 268.75,706.9 268.875,706.3 269,706.4 269.125,707.8 269.25,706.8 269.375,707 269.5,707.6 269.625,706.7 269.75,706.5 269.875,707.4 270,706.5 270.125,708.2 270.25,708.1 270.375,706.9 270.5,707.8 270.625,707.3 270.75,707.4 270.875,708.2 271,706.9 271.125,706.8 271.25,708 271.375,707.8 271.5,706.7 271.625,706.6 271.75,706.7 271.875,707.5 272,707.9 272.125,707.6 272.25,708.2 272.375,707.4 272.5,707.9 272.625,708.1 272.75,707.7 272.875,708.3 273,707.4 273.125,706.9 273.25,706.8 273.375,706.1 273.5,706.2 273.625,706.8 273.75,706.1 273.875,707 274,706.3 274.125,707.3 274.25,706.7 274.375,705.8 274.5,706.6 274.625,706.8 274.75,706.2 274.875,707.3 275,706.2 275.125,707.9 275.25,707.7 275.375,707.7 275.5,707.7 275.625,706.3 275.75,708.3 275.875,707.7 276,707.2 276.125,706.7 276.25,706.6 276.375,707.2 276.5,707.6 276.625,706.2 276.75,707.7 276.875,707.9 277,707.5 277.125,707 277.25,706 277.375,706.5 277.5,706.9 277.625,707 277.75,706.8 277.875,707 278,707.6 278.125,708.2 278.25,708 278.375,706.9 278.5,707.2 278.625,706.9 278.75,708.4 278.875,706.6 279,707.8 279.125,706.6 279.25,707.3 279.375,707.4 279.5,706.7 279.625,707 279.75,706.8 279.875,707.8 280,706.9 280.125,707.3 280.25,708 280.375,707.9 280.5,707.1 280.625,707.5 280.75,706.3 280.875,707.7 281,708 281.125,706 281.25,707.4 281.375,707.1 281.5,707.6 281.625,707.7 281.75,707.3 281.875,706.4 282,708 282.125,706.4 282.25,706.2 282.375,707 282.5,707.5 282.625,707.9 282.75,708.2 282.875,708 283,707 283.125,708.7 283.25,707.1 283.375,707.4 283.5,708.8 283.625,708.6 283.75,707.1 283.875,707.3 284,708 284.125,706.7 284.25,707.9 284.375,707.3 284.5,708 284.625,707 284.75,708.2 284.875,707.9 285,706.6 285.125,707.2 285.25,706.8 285.375,706.6 285.5,707 285.625,707.8 285.75,706.8 285.875,708 286,707.7 286.125,707.3 286.25,707.9 286.375,708 286.5,706.9 286.625,706.7 286.75,707.4 286.875,707.5 287,707.9 287.125,707.3 287.25,707.1 287.375,706.4 287.5,708.1 287.625,706.3 287.75,706.1 287.875,707.5 288,706.8 288.125,706.5 288.25,706.9 288.375,707.7 288.5,707 288.625,706.5 288.75,708.1 288.875,707.4 289,708.4 289.125,706.7 289.25,706.7 289.375,708.2 289.5,706.7 289.625,706.8 289.75,707.9 289.875,707.1 290,706.7 290.125,707.4 290.25,707.2 290.375,706.2 290.5,706.8 290.625,707.2 290.75,708.2 290.875,708.1 291,706.6 291.125,706.9 291.25,706.8 291.375,707.2 291.5,707.3 291.625,707.4 291.75,706.9 291.875,707.8 292,707.4 292.125,707.4 292.25,707 292.375,707.8 292.5,708.3 292.625,708.1 292.75,707.8 292.875,706.5 293,706.8 293.125,706.8 293.25,707.4 293.375,708.1 293.5,707.3 293.625,706.5 293.75,707.2 293.875,706.9 294,707.5 294.125,707.8 294.25,706.9 294.375,707.2 294.5,707.5 294.625,707.7 294.75,706.7 294.875,707.4 295,707 295.125,707.5 295.25,706.5 295.375,707.2 295.5,707.1 295.625,706.3 295.75,706.8 295.875,706.8 296,707.7 296.125,706.6 296.25,707.6 296.375,706.4 296.5,706.6 296.625,707.1 296.75,706.8 296.875,707.5 297,707 297.125,708.3 297.25,706.4 297.375,706.6 297.5,707.9 297.625,707.8 297.75,707.1 297.875,706.7 298,708 298.125,706.4 298.25,707.7 298.375,706.3 298.5,706.9 298.625,707.5 298.75,707.7 298.875,708.4 299,708.4 299.125,707.2 299.25,706.8 299.375,706.6 299.5,707.6 299.625,706.5 299.75,707.8 299.875,706.4 300,706.4 300.125,707.9 300.25,706.3 300.375,706.6 300.5,706.6 300.625,706.5 300.75,707.2 300.875,707.1 301,707.4 301.125,706.4 301.25,706.3 301.375,707.8 301.5,706.6 301.625,707.7 301.75,707.9 301.875,707.9 302,707.1 302.125,707.5 302.25,707.6 302.375,708 302.5,707.6 302.625,706.5 302.75,708.1 302.875,707.2 303,706.9 303.125,708.1 303.25,707.5 303.375,706.3 303.5,706.2 303.625,706.6 303.75,708 303.875,706.7 304,707.3 304.125,707.9 304.25,707.3 304.375,706.4 304.5,706.5 304.625,707.6 304.75,708.3 304.875,706.6 305,706.4 305.125,707.4 305.25,708 305.375,707.4 305.5,707 305.625,707.5 305.75,707.7 305.875,707.9 306,707.9 306.125,708.4 306.25,707.9 306.375,706.4 306.5,708.3 306.625,706.8 306.75,706.5 306.875,707.4 307,707 307.125,707.7 307.25,706.8 307.375,706.7 307.5,706.6 307.625,707 307.75,705.9 307.875,706.2 308,706.9 308.125,706.7 308.25,707.7 308.375,706.3 308.5,706.9 308.625,706.4 308.75,707.6 308.875,706.2 309,708.1 309.125,707.3 309.25,708.1 309.375,707.9 309.5,706.7 309.625,708.1 309.75,707.3 309.875,707.8 310,706.5 310.125,708.1 310.25,707.5 310.375,706.4 310.5,706.8 310.625,706.7 310.75,706.2 310.875,708.1 311,706.8 311.125,706.6 311.25,706.6 311.375,706.7 311.5,708 311.625,708 311.75,706.7 311.875,707.2 312,707.9 312.125,708.5 312.25,707.3 312.375,708.3 312.5,707 312.625,707.9 312.75,706.9 312.875,708.4 313,707.5 313.125,708.3 313.25,706.8 313.375,707.2 313.5,707.8 313.625,706.3 313.75,706.9 313.875,707.6 314,706.4 314.125,707.5 314.25,706.3 314.375,707.7 314.5,706.2 314.625,708.1 314.75,706.6 314.875,707.5 315,707.2 315.125,706.8 315.25,708 315.375,707.6 315.5,707.9 315.625,706.6 315.75,707.6 315.875,707.1 316,707.4 316.125,707.6 316.25,706.3 316.375,707.2 316.5,706.8 316.625,706.7 316.75,706.5 316.875,707.8 317,708.2 317.125,707.4 317.25,708 317.375,708.3 317.5,706.5 317.625,707.1 317.75,707.6 317.875,708.4 318,707 318.125,707.5 318.25,708.3 318.375,706.6 318.5,706.6 318.625,706.6 318.75,706.9 318.875,707.5 319,708 319.125,707.3 319.25,708.2 319.375,707.1 319.5,708.4 319.625,708.5 319.75,707.1 319.875,707.7 320,707.1 320.125,706.9 320.25,706.7 320.375,707.2 320.5,706.6 320.625,706.9 320.75,706.4 320.875,706.5 321,708.3 321.125,707.8 321.25,707.5 321.375,707.8 321.5,707.9 321.625,706.5 321.75,708.3 321.875,708 322,706.8 322.125,708 322.25,707.8 322.375,706.3 322.5,706.7 322.625,707.3 322.75,708 322.875,707.7 323,706.2 323.125,706.5 323.25,708 323.375,706.7 323.5,707.5 323.625,706.6 323.75,707.6 323.875,708 324,708.2 324.125,707.7 324.25,706.4 324.375,706.3 324.5,706.7 324.625,706.6 324.75,707.7 324.875,707.4 325,706.1 325.125,706 325.25,707.2 325.375,706.4 325.5,706.2 325.625,706 325.75,707.5 325.875,706.9 326,707.5 326.125,707.3 326.25,707.3 326.375,707.7 326.5,708.3 326.625,706.7 326.75,706.7 326.875,706.5 327,707.9 327.125,707.8 327.25,707.1 327.375,706.3 327.5,707.3 327.625,708 327.75,707 327.875,706.2 328,706.4 328.125,706.3 328.25,707.4 328.375,707.7 328.5,706.4 328.625,706.6 328.75,706.4 328.875,707.3 329,707.5 329.125,707.6 329.25,706.3 329.375,706.3 329.5,707.5 329.625,706.4 329.75,707.4 329.875,707.3 330,707.1 330.125,707.8 330.25,707.8 330.375,707.8 330.5,707.8 330.625,707.2 330.75,708.1 330.875,706.6 331,707.9 331.125,707.4 331.25,707.1 331.375,708.3 331.5,707.7 331.625,707.3 331.75,707.4 331.875,706.7 332,706.9 332.125,708.3 332.25,706.8 332.375,707.3 332.5,707.1 332.625,708.1 332.75,707.4 332.875,706.9 333,706.6 333.125,706.6 333.25,707.8 333.375,706.7 333.5,707.3 333.625,707 333.75,706.6 333.875,707.5 334,706.3 334.125,706.6 334.25,706.6 334.375,707.5 334.5,707.2 334.625,707.9 334.75,706.7 334.875,706.3 335,707.9 335.125,706.7 335.25,706.8 335.375,708.2 335.5,706.4 335.625,707.3 335.75,707.8 335.875,708.2 336,706.6 336.125,707.4 336.25,707 336.375,707.8 336.5,706.8 336.625,707.1 336.75,706.3 336.875,706.6 337,706.5 337.125,707.5 337.25,707.9 337.375,706.2 337.5,706.1 337.625,706.8 337.75,706.2 337.875,706.6 338,706.9 338.125,707.3 338.25,707.5 338.375,707.3 338.5,707.8 338.625,707.3 338.75,707.1 338.875,708.2 339,707.4 339.125,707.7 339.25,707 339.375,706.6 339.5,707 339.625,707 339.75,707.1 339.875,707.8 340,707.5 340.125,706.7 340.25,706.4 340.375,708 340.5,708.4 340.625,706.4 340.75,706.6 340.875,707.1 341,706.8 341.125,707.1 341.25,706.5 341.375,707.9 341.5,707.7 341.625,707.2 341.75,708.2 341.875,707.1 342,707.9 342.125,707 342.25,706.7 342.375,707.5 342.5,706.2 342.625,707 342.75,706.7 342.875,708.3 343,708 343.125,706.8 343.25,706.2 343.375,707 343.5,706.5 343.625,708.2 343.75,706.6 343.875,706.6 344,707.1 344.125,707.6 344.25,707.1 344.375,708 344.5,707.1 344.625,707 344.75,707.4 344.875,707.9 345,708.4 345.125,708 345.25,706.7 345.375,708.1 345.5,708.5 345.625,708.2 345.75,707.5 345.875,707.3 346,706.6 346.125,706.5 346.25,706.2 346.375,706.4 346.5,707.4 346.625,708.1 346.75,706.3 346.875,707.8 347,706.8 347.125,707.5 347.25,706.4 347.375,707.8 347.5,707.4 347.625,708 347.75,706.7 347.875,707.2 348,707.1 348.125,707.6 348.25,708 348.375,706.6 348.5,706.8 348.625,706.9 348.75,706.3 348.875,707.2 349,707.9 349.125,706.9 349.25,707.5 349.375,707.1 349.5,707.2 349.625,707 349.75,706.2 349.875,706.4 350,707.3 350.125,706.3 350.25,706.3 350.375,706.5 350.5,706.9 350.625,706.3 350.75,707.1 350.875,707.9 351,707.6 351.125,706.9 351.25,707.5 351.375,707.6 351.5,707.6 351.625,708.1 351.75,708.3 351.875,708.4 352,707.2 352.125,707.9 352.25,707.7 352.375,706.8 352.5,707.3 352.625,706.9 352.75,706.9 352.875,706.5 353,708.3 353.125,707.7 353.25,706.5 353.375,707.5 353.5,706.3 353.625,707.9 353.75,708.2 353.875,706.4 354,707.5 354.125,707.4 354.25,706.4 354.375,707.9 354.5,706.3 354.625,707.6 354.75,707.8 354.875,707.9 355,707.3 355.125,707.5 355.25,706.7 355.375,708.3 355.5,708.2 355.625,707.9 355.75,707.1 355.875,706.8 356,707.4 356.125,707 356.25,707 356.375,708.3 356.5,707.8 356.625,706.1 356.75,707.5 356.875,706.1 357,707.1 357.125,707.7 357.25,708.1 357.375,707.7 357.5,707.5 357.625,707.3 357.75,707.4 357.875,707.1 358,707.3 358.125,708.4 358.25,708 358.375,706.7 358.5,708.6 358.625,707.1 358.75,707.7 358.875,707.2 359,708 359.125,707.8 359.25,707.5 359.375,706.6 359.5,707.8 359.625,708.1 359.75,708.2 359.875,706.4 360,707.6 360.125,708.1 360.25,707 360.375,706.6 360.5,707 360.625,707.9 360.75,707.4 360.875,707.7 361,708.2 361.125,706.2 361.25,707.2 361.375,707.9 361.5,706.2 361.625,705.9 361.75,706.3 361.875,707.6 362,707.6 362.125,706.9 362.25,706.8 362.375,706.2 362.5,706.1 362.625,706.1 362.75,707.4 362.875,706.9 363,707.9 363.125,707.1 363.25,708.1 363.375,708 363.5,708.1 363.625,707.7 363.75,707.7 363.875,706.9 364,708.2 364.125,708.2 364.25,706.9 364.375,706.9 364.5,707 364.625,706.9 364.75,706.9 364.875,707.1 365,706.7 365.125,708 365.25,707.8 365.375,706.7 365.5,707.8 365.625,707.2 365.75,707.9 365.875,707.4 366,706.4 366.125,706.9 366.25,707.3 366.375,707.6 366.5,706.6 366.625,706.9 366.75,707.3 366.875,706.4 367,706.8 367.125,706.1 367.25,706.8 367.375,706.2 367.5,707 367.625,706.6 367.75,706.3 367.875,707.8 368,706.9 368.125,706.7 368.25,707.9 368.375,706.2 368.5,706.4 368.625,706 368.75,707.1 368.875,707 369,706 369.125,706.9 369.25,706 369.375,707 369.5,707.2 369.625,707.3 369.75,707.3 369.875,706.8 370,707.4 370.125,705.9 370.25,705.6 370.375,707.4 370.5,707.6 370.625,707.8 370.75,705.9 370.875,707.6 371,706.4 371.125,707.2 371.25,707.5 371.375,707.5 371.5,706.6 371.625,708.1 371.75,706.4 371.875,707.1 372,707.7 372.125,707.7 372.25,706.8 372.375,706.9 372.5,707.6 372.625,707.6 372.75,707.3 372.875,706.2 373,707 373.125,706.3 373.25,706.7 373.375,706.9 373.5,707.1 373.625,706.7 373.75,707.1 373.875,706.6 374,707.8 374.125,707.3 374.25,706.3 374.375,707.2 374.5,706.2 374.625,706 374.75,706.8 374.875,707.8 375,706.4 375.125,706.6 375.25,707.4 375.375,706.1 375.5,706.8 375.625,707.8 375.75,707.7 375.875,707.4 376,706.5 376.125,706.1 376.25,707.6 376.375,707.7 376.5,706.5 376.625,707.1 376.75,707 376.875,706.3 377,706 377.125,705.8 377.25,706.3 377.375,708 377.5,707.8 377.625,706.8 377.75,706 377.875,707.8 378,706.8 378.125,707 378.25,707 378.375,707.2 378.5,707.4 378.625,707.5 378.75,707.8 378.875,706.8 379,707 379.125,706.3 379.25,706.4 379.375,705.7 379.5,706.9 379.625,705.7 379.75,706.7 379.875,706 380,705.6 380.125,706.4 380.25,706.3 380.375,705.8 380.5,706.9 380.625,706.1 380.75,707.1 380.875,706.9 381,706.1 381.125,705.3 381.25,705.3 381.375,707 381.5,707.2 381.625,706.3 381.75,706.4 381.875,706.6 382,705.7 382.125,705.8 382.25,706 382.375,705.8 382.5,706 382.625,705.8 382.75,705.1 382.875,705 383,704.8 383.125,705.1 383.25,706.7 383.375,705.9 383.5,705.2 383.625,706.2 383.75,705.5 383.875,706.6 384,706.1 384.125,705.7 384.25,706.3 384.375,705.5 384.5,705.9 384.625,704.5 384.75,705.5 384.875,705.4 385,704.3 385.125,704.9 385.25,705.8 385.375,705.2 385.5,704.3 385.625,705 385.75,704.9 385.875,704 386,704.1 386.125,704.4 386.25,703.7 386.375,703.3 386.5,704.4 386.625,703.8 386.75,703.5 386.875,702.3 387,703.9 387.125,703 387.25,703.1 387.375,701.8 387.5,701.3 387.625,702.7 387.75,700.7 387.875,700.8 388,701.6 388.125,699.7 388.25,700.8 388.375,699.5 388.5,700.6 388.625,699.4 388.75,698.8 388.875,697.6 389,697.2 389.125,697.1 389.25,697.3 389.375,695.5 389.5,694.4 389.625,691.4 389.75,689.6 389.875,686.5 390,681.1 390.125,671.8 390.25,660.8 390.375,641.5 390.5,618.1 390.625,588.7 390.75,553.1 390.875,516.2 391,481.5 391.125,455 391.25,446.2 391.375,456.1 391.5,481.6 391.625,516.3 391.75,555.4 391.875,590.2 392,619.3 392.125,643.6 392.25,661.3 392.375,674.5 392.5,683.3 392.625,689.1 392.75,692.9 392.875,695.8 393,697.9 393.125,699.6 393.25,701.1 393.375,701.5 393.5,701.5 393.625,702.6 393.75,704 393.875,703.1 394,705.1 394.125,703.5 394.25,704.4 394.375,704.8 394.5,705.4 394.625,704.6 394.75,706.5 394.875,706.5 395,705.5 395.125,706.1 395.25,705.9 395.375,705.7 395.5,706.7 395.625,704.9 395.75,705.6 395.875,706.7 396,705.3 396.125,705.7 396.25,705.5 396.375,705.4 396.5,705 396.625,707 396.75,705.1 396.875,706.1 397,706.7 397.125,706.4 397.25,706.4 397.375,705.4 397.5,706.2 397.625,707.2 397.75,705.9 397.875,706.4 398,705.7 398.125,707.3 398.25,705.7 398.375,705.8 398.5,707.7 398.625,706.7 398.75,707.5 398.875,706.6 399,707.5 399.125,705.9 399.25,707.4 399.375,706.4 399.5,706.4 399.625,707.1 399.75,707.4 399.875,705.9 400,707.7 400.125,707.3 400.25,707.2 400.375,706.6 400.5,707.1 400.625,707.6 400.75,706.5 400.875,706.2 401,706.3 401.125,706.7 401.25,707.1 401.375,707.7 401.5,706.7 401.625,706.5 401.75,706.9 401.875,705.8 402,707.4 402.125,706.2 402.25,706.5 402.375,706.2 402.5,706.3 402.625,707.7 402.75,706.3 402.875,707.4 403,706.9 403.125,706.3 403.25,707.1 403.375,707.1 403.5,708.2 403.625,707 403.75,707.7 403.875,707.3 404,707.3 404.125,706.1 404.25,706.8 404.375,706.6 404.5,707.7 404.625,707.5 404.75,706.2 404.875,707.7 405,706 405.125,707 405.25,707.1 405.375,706.7 405.5,706.8 405.625,706.6 405.75,706.6 405.875,706 406,706.8 406.125,707 406.25,706.5 406.375,707.4 406.5,706.6 406.625,706.6 406.75,705.9 406.875,707.5 407,707.1 407.125,706.4 407.25,707.3 407.375,706.3 407.5,706.7 407.625,708.1 407.75,707.4 407.875,706.7 408,707.1 408.125,706.8 408.25,706.2 408.375,706.9 408.5,707.1 408.625,706.4 408.75,707.3 408.875,708.1 409,707.5 409.125,706.8 409.25,706.1 409.375,706.7 409.5,707.4 409.625,706.1 409.75,707.4 409.875,707.6 410,707 410.125,707.5 410.25,708 410.375,706.7 410.5,706.7 410.625,706.2 410.75,707.9 410.875,706.4 411,706.7 411.125,707.8 411.25,707.2 411.375,707 411.5,707.6 411.625,708.1 411.75,706.6 411.875,708.1 412,707.4 412.125,707.5 412.25,706.4 412.375,707.1 412.5,707.3 412.625,706.2 412.75,707.5 412.875,706.8 413,707.7 413.125,706.6 413.25,706.6 413.375,706.5 413.5,707.2 413.625,707.7 413.75,707 413.875,706.4 414,707.7 414.125,708.3 414.25,708.1 414.375,706.3 414.5,708.5 414.625,708.4 414.75,708.3 414.875,706.5 415,707.7 415.125,707.1 415.25,707 415.375,707.6 415.5,707 415.625,707.6 415.75,707.4 415.875,707.9 416,708.5 416.125,707.2 416.25,707.9 416.375,707.9 416.5,706.6 416.625,707.6 416.75,708.1 416.875,707.1 417,707.2 417.125,708.1 417.25,707.5 417.375,707 417.5,707.7 417.625,706.2 417.75,706.6 417.875,707.2 418,706.4 418.125,708.1 418.25,707.7 418.375,706.3 418.5,707.2 418.625,708 418.75,707.2 418.875,706.9 419,707.1 419.125,708.3 419.25,708.2 419.375,707.4 419.5,708.3 419.625,708.2 419.75,707 419.875,707.4 420,708.1 420.125,706.4 420.25,707.3 420.375,706.2 420.5,706.8 420.625,706.9 420.75,707.3 420.875,706.8 421,707.7 421.125,707.7 421.25,706.4 421.375,707.8 421.5,707.5 421.625,706.7 421.75,707.6 421.875,707.4 422,706.2 422.125,707.6 422.25,707.5 422.375,706.3 422.5,707.5 422.625,707.6 422.75,706.4 422.875,707.6 423,706.1 423.125,706.5 423.25,706.6 423.375,708 423.5,708 423.625,707 423.75,706.9 423.875,708.2 424,708.3 424.125,708 424.25,708.2 424.375,707.6 424.5,707.4 424.625,707.2 424.75,708.4 424.875,708.1 425,708.3 425.125,708 425.25,708.1 425.375,706.3 425.5,707.5 425.625,708.1 425.75,706.9 425.875,706.2 426,706.6 426.125,707 426.25,707.5 426.375,707.5 426.5,707.8 426.625,706.6 426.75,706.6 426.875,707.4 427,706.7 427.125,707.2 427.25,707.2 427.375,708.1 427.5,708.1 427.625,708 427.75,706.6 427.875,706.9 428,706.7 428.125,707 428.25,707 428.375,707.7 428.5,707 428.625,708.2 428.75,707.1 428.875,708.2 429,706.3 429.125,706.5 429.25,708 429.375,706.7 429.5,706.5 429.625,708 429.75,706.9 429.875,707.2 430,706.8 430.125,706.3 430.25,706.6 430.375,707.7 430.5,707 430.625,706.9 430.75,708 430.875,707.7 431,707.3 431.125,707.7 431.25,707.6 431.375,706.7 431.5,705.9 431.625,707 431.75,706.6 431.875,706.4 432,706.6 432.125,706.7 432.25,708.1 432.375,706.3 432.5,707.8 432.625,707.8 432.75,707.1 432.875,706.9 433,706.6 433.125,707.6 433.25,706.2 433.375,707 433.5,706.5 433.625,707.3 433.75,708.1 433.875,708.2 434,706.8 434.125,707.2 434.25,707.1 434.375,707.5 434.5,707.8 434.625,707.2 434.75,707.7 434.875,706.3 435,707.9 435.125,706.4 435.25,706.7 435.375,707.7 435.5,706.8 435.625,707.3 435.75,707.7 435.875,707 436,707 436.125,708.3 436.25,706.8 436.375,708.7 436.5,708.7 436.625,707.7 436.75,708 436.875,707.8 437,708 437.125,707.9 437.25,706.9 437.375,706.7 437.5,707.9 437.625,708.1 437.75,707.2 437.875,708.2 438,707.6 438.125,706.8 438.25,708.4 438.375,706.7 438.5,706.5 438.625,707.3 438.75,707.6 438.875,707 439,707.6 439.125,706.6 439.25,707 439.375,707.6 439.5,706.6 439.625,707.1 439.75,708.1 439.875,707.5 440,707.4 440.125,706.5 440.25,707.9 440.375,707.6 440.5,706.4 440.625,707.5 440.75,706.7 440.875,708.3 441,707.6 441.125,708 441.25,706.5 441.375,707.2 441.5,707.9 441.625,708.2 441.75,707.5 441.875,708.2 442,707.3 442.125,706.8 442.25,707.7 442.375,707.9 442.5,707.5 442.625,707.9 442.75,706.4 442.875,708 443,706.6 443.125,707.5 443.25,706.6 443.375,706.4 443.5,707.9 443.625,706.5 443.75,706.1 443.875,706.9 444,706.8 444.125,707.4 444.25,707.8 444.375,706.6 444.5,706.4 444.625,707.6 444.75,707.8 444.875,707.5 445,706.9 445.125,707.6 445.25,706.3 445.375,706.7 445.5,706.5 445.625,707.1 445.75,706.8 445.875,706.3 446,708.3 446.125,707.1 446.25,707.9 446.375,706.7 446.5,707.8 446.625,706.8 446.75,707.7 446.875,707 447,707 447.125,706.5 447.25,706.6 447.375,707.6 447.5,707 447.625,708 447.75,708.2 447.875,706.8 448,706.4 448.125,706.7 448.25,707.2 448.375,707.1 448.5,706.8 448.625,707.1 448.75,707.6 448.875,706.6 449,707.6 449.125,706.5 449.25,706.7 449.375,706.8 449.5,706.6 449.625,706.2 449.75,706.2 449.875,707.3 450,707.5 450.125,706.7 450.25,706.2 450.375,707.1 450.5,708.5 450.625,708.5 450.75,707.6 450.875,706.9 451,706.7 451.125,707.7 451.25,707.4 451.375,707.2 451.5,708.2 451.625,708.5 451.75,707.3 451.875,707.2 452,706.5 452.125,707.8 452.25,706.4 452.375,707.6 452.5,707.1 452.625,706.8 452.75,708 452.875,706.4 453,706.3 453.125,706.2 453.25,708.2 453.375,706.8 453.5,706.8 453.625,706.5 453.75,707.9 453.875,708.1 454,706.7 454.125,707.9 454.25,708.4 454.375,708.4 454.5,707.2 454.625,707.5 454.75,707.1 454.875,707.1 455,708.6 455.125,706.7 455.25,706.7 455.375,706.6 455.5,706.9 455.625,707.6 455.75,707.8 455.875,706.4 456,707.4 456.125,707.3 456.25,706.9 456.375,706.8 456.5,706.8 456.625,707 456.75,707.4 456.875,706.7 457,707.5 457.125,707.8 457.25,706.4 457.375,706.6 457.5,706.9 457.625,707.9 457.75,708.1 457.875,706.3 458,706.3 458.125,707.6 458.25,706.8 458.375,708 458.5,707.2 458.625,706.6 458.75,707.2 458.875,706.3 459,706 459.125,707.7 459.25,706.5 459.375,707.2 459.5,707.6 459.625,707.1 459.75,706.9 459.875,706 460,706.4 460.125,708 460.25,708.1 460.375,706.1 460.5,707.2 460.625,707 460.75,707.7 460.875,706.6 461,707.2 461.125,707.2 461.25,707.7 461.375,706.6 461.5,707.8 461.625,707.9 461.75,706.9 461.875,706.5 462,707.5 462.125,707.5 462.25,707.9 462.375,707 462.5,706.6 462.625,708.1 462.75,707.3 462.875,707.4 463,708.2 463.125,707.3 463.25,707.8 463.375,707.9 463.5,706.1 463.625,708 463.75,707.4 463.875,706.9 464,707.4 464.125,708.1 464.25,706.3 464.375,707.4 464.5,707.1 464.625,706.2 464.75,706 464.875,706.1 465,707.3 465.125,706.6 465.25,706.4 465.375,707.8 465.5,706.1 465.625,708.1 465.75,707 465.875,708 466,708 466.125,708.2 466.25,706.6 466.375,708.4 466.5,706.7 466.625,708.3 466.75,707.8 466.875,708 467,706.3 467.125,708.1 467.25,706.4 467.375,707.6 467.5,706.2 467.625,706.6 467.75,707.6 467.875,706.9 468,707.7 468.125,707.1 468.25,707.9 468.375,706.6 468.5,706.8 468.625,707.4 468.75,708 468.875,706.1 469,707.9 469.125,707.5 469.25,708.1 469.375,707.3 469.5,707.3 469.625,707.1 469.75,707.5 469.875,707.7 470,706.6 470.125,707.7 470.25,707.6 470.375,707.3 470.5,707.7 470.625,706.7 470.75,708.1 470.875,707.7 471,707.5 471.125,707.7 471.25,706.5 471.375,707.6 471.5,707.4 471.625,707.2 471.75,706.5 471.875,707.7 472,706.5 472.125,706.1 472.25,707.5 472.375,707.7 472.5,706.3 472.625,707.5 472.75,707.7 472.875,708 473,706.9 473.125,706.4 473.25,706.5 473.375,707 473.5,707.3 473.625,706.3 473.75,707 473.875,706.5 474,707.1 474.125,707 474.25,706.8 474.375,708 474.5,707.9 474.625,708.2 474.75,706.3 474.875,706.2 475,706.9 475.125,707.8 475.25,707.8 475.375,707.2 475.5,707.3 475.625,707.7 475.75,708 475.875,706.9 476,706.6 476.125,708.2 476.25,707.7 476.375,707.7 476.5,707.3 476.625,707.1 476.75,707.6 476.875,706.6 477,707.6 477.125,707.7 477.25,706.7 477.375,706.5 477.5,706.3 477.625,707.8 477.75,707.8 477.875,707.3 478,706.3 478.125,706.9 478.25,706.9 478.375,707.5 478.5,706.2 478.625,707.9 478.75,707.2 478.875,707 479,706.7 479.125,706.7 479.25,707.5 479.375,707.8 479.5,706.2 479.625,707.1 479.75,707.6 479.875,707.9 480,706.5 480.125,706.5 480.25,707 480.375,707.4 480.5,706.8 480.625,706.1 480.75,707 480.875,706.6 481,706.5 481.125,706.9 481.25,707.5 481.375,708.1 481.5,706.9 481.625,706.5 481.75,706.3 481.875,707.9 482,708.1 482.125,707 482.25,706.5 482.375,707.9 482.5,706.7 482.625,707.4 482.75,705.9 482.875,707.3 483,708 483.125,706.6 483.25,707.6 483.375,707.4 483.5,708 483.625,707.6 483.75,708.1 483.875,707.9 484,707.4 484.125,708 484.25,707.1 484.375,706.5 484.5,707.2 484.625,708.4 484.75,706.5 484.875,708.2 485,707.8 485.125,707.6 485.25,707.4 485.375,708.1 485.5,707.8 485.625,707.4 485.75,707.9 485.875,708.3 486,708 486.125,708 486.25,708.2 486.375,707.4 486.5,707.5 486.625,707.6 486.75,707 486.875,706.7 487,707 487.125,707.6 487.25,706.3 487.375,708 487.5,706.6 487.625,707.4 487.75,707.3 487.875,706.4 488,706.9 488.125,706.2 488.25,706.5 488.375,708 488.5,707.1 488.625,706.5 488.75,708 488.875,706.9 489,706 489.125,707.6 489.25,707.9 489.375,707.6 489.5,707.5 489.625,707.7 489.75,707.3 489.875,706.4 490,707.1 490.125,706.9 490.25,707.9 490.375,708.1 490.5,706.2 490.625,707.4 490.75,706.2 490.875,707.4 491,706.6 491.125,706.6 491.25,707.8 491.375,707.8 491.5,707 491.625,707.8 491.75,707.4 491.875,707.7 492,707.4 492.125,707.2 492.25,707.4 492.375,707.5 492.5,707.2 492.625,706.8 492.75,708.1 492.875,706.1 493,707.3 493.125,706.2 493.25,708.2 493.375,708 493.5,708 493.625,706.3 493.75,707.4 493.875,706.5 494,706.9 494.125,708.1 494.25,707.5 494.375,707.6 494.5,707.4 494.625,706.7 494.75,708.1 494.875,706.5 495,707.5 495.125,707.7 495.25,707 495.375,707.9 495.5,707 495.625,707.7 495.75,707.6 495.875,708.2 496,708.1 496.125,706.8 496.25,707.3 496.375,707.6 496.5,706.8 496.625,706.5 496.75,708.1 496.875,706.3 497,708.4 497.125,707.1 497.25,707.8 497.375,707.7 497.5,707.4 497.625,707.1 497.75,707.4 497.875,706.8 498,706.2 498.125,707.7 498.25,707.5 498.375,706.8 498.5,707.2 498.625,707.4 498.75,707 498.875,706.6 499,706.1 499.125,706 499.25,706.4 499.375,707.4 499.5,706.4 499.625,706.8 499.75,708 499.875,706.3 500,707.8 500.125,706.9 500.25,706.9 500.375,706.4 500.5,706.9 500.625,706.4 500.75,708.3 500.875,708.4 501,708 501.125,707.1 501.25,707.3 501.375,708 501.5,707.7 501.625,707 501.75,707.3 501.875,706.6 502,707.2 502.125,706.2 502.25,706.5 502.375,707.1 502.5,707.4 502.625,707.8 502.75,707.6 502.875,707.5 503,707.4 503.125,707.7 503.25,707.1 503.375,707.9 503.5,706.4 503.625,707 503.75,708 503.875,707.6 504,707.8 504.125,707.9 504.25,707.3 504.375,708.1 504.5,708.2 504.625,707 504.75,707.6 504.875,707.1 505,707.5 505.125,707.3 505.25,707.7 505.375,707.4 505.5,707.4 505.625,707.7 505.75,706.6 505.875,707.8 506,707.8 506.125,707.5 506.25,706.6 506.375,706.4 506.5,707.1 506.625,707.7 506.75,707.1 506.875,706.7 507,707.8 507.125,706.9 507.25,706.8 507.375,707.4 507.5,707.9 507.625,707 507.75,707.8 507.875,707.5 508,707.1 508.125,706.3 508.25,707.9 508.375,708.1 508.5,707.2 508.625,706.3 508.75,708.4 508.875,707 509,708.3 509.125,707.2 509.25,708 509.375,706.8 509.5,707.4 509.625,706.7 509.75,707.7 509.875,708 510,707.7 510.125,707.5 510.25,707.6 510.375,707.6 510.5,706.9 510.625,707.2 510.75,706.5 510.875,707.1 511,707.1 511.125,706.7 511.25,706.4 511.375,706.9 511.5,708.1 511.625,707.1 511.75,708.2 511.875,707 512,708 512.125,706.9 512.25,707.6 512.375,706.2 512.5,707.7 512.625,706.2 512.75,706 512.875,706.8 513,705.8 513.125,706.1 513.25,705.7 513.375,705.4 513.5,705.8 513.625,704.6 513.75,706.2 513.875,706.2 514,706.7 514.125,705.5 514.25,706.4 514.375,706.6 514.5,706.5 514.625,706.1 514.75,706.6 514.875,706.8 515,707.2 515.125,706.7 515.25,705.6 515.375,706.4 515.5,706.4 515.625,705.3 515.75,706.7 515.875,706.5 516,704.9 516.125,704.7 516.25,706.9 516.375,707.2 516.5,707.6 516.625,706.4 516.75,707.5 516.875,706.8 517,706.8 517.125,708.3 517.25,706.6 517.375,707.8 517.5,707.2 517.625,707.6 517.75,707.6 517.875,707.4 518,708.1 518.125,707.3 518.25,707.6 518.375,707.3 518.5,707.7 518.625,707.4 518.75,706.6 518.875,706.1 519,707.7 519.125,706.3 519.25,706.8 519.375,708 519.5,708.3 519.625,706.4 519.75,707.9 519.875,708.1 520,706.9 520.125,706.9 520.25,706.5 520.375,707.3 520.5,707.7 520.625,707.6 520.75,707.8 520.875,706.8 521,706.1 521.125,708 521.25,707.4 521.375,707.6 521.5,708.1 521.625,706.8 521.75,706.1 521.875,707.7 522,706.7 522.125,706.4 522.25,707.9 522.375,706.6 522.5,706.9 522.625,707 522.75,708 522.875,707.8 523,708.1 523.125,706.5 523.25,706.6 523.375,708.2 523.5,707.1 523.625,707.8 523.75,706.5 523.875,706.8 524,706.2 524.125,706.6 524.25,707.9 524.375,707.3 524.5,706.9 524.625,706.3 524.75,707.4 524.875,707.8 525,707.6 525.125,707.6 525.25,707.8 525.375,707.3 525.5,707.5 525.625,706.9 525.75,706.1 525.875,705.9 526,707.6 526.125,706.6 526.25,706.4 526.375,707.4 526.5,706.7 526.625,707.4 526.75,707.2 526.875,707.4 527,706.4 527.125,707.7 527.25,707.1 527.375,707.2 527.5,707.7 527.625,706.6 527.75,707.8 527.875,707.8 528,707.1 528.125,707.6 528.25,707.1 528.375,708.2 528.5,708.1 528.625,706.8 528.75,707.5 528.875,706.4 529,707.6 529.125,707.5 529.25,706 529.375,707 529.5,707.3 529.625,706.8 529.75,705.3 529.875,705.9 530,705 530.125,704.5 530.25,705.4 530.375,705.4 530.5,705.2 530.625,706.8 530.75,705.7 530.875,706.4 531,707.1 531.125,707.2 531.25,706.9 531.375,707.3 531.5,706.1 531.625,706.7 531.75,707.9 531.875,706.2 532,706.8 532.125,707.2 532.25,708 532.375,707.2 532.5,706.4 532.625,707.1 532.75,707.3 532.875,707 533,707.1 533.125,706.8 533.25,707.6 533.375,707.5 533.5,707.7 533.625,705.8 533.75,707.4 533.875,706.7 534,705.9 534.125,705.7 534.25,704.4 534.375,705.3 534.5,705.2 534.625,705.4 534.75,705.2 534.875,706.1 535,706.1 535.125,706 535.25,706.9 535.375,706.2 535.5,707.6 535.625,706.5 535.75,705.8 535.875,705.8 536,706.6 536.125,705.8 536.25,707.4 536.375,707.3 536.5,707 536.625,706.8 536.75,706.1 536.875,707 537,707.8 537.125,706.5 537.25,707.4 537.375,706.1 537.5,707.6 537.625,707.4 537.75,707.8 537.875,707.3 538,706.7 538.125,707.4 538.25,707.9 538.375,706.6 538.5,706 538.625,706.9 538.75,705.8 538.875,706 539,705.9 539.125,705.4 539.25,706 539.375,705.4 539.5,707.4 539.625,706.3 539.75,706.2 539.875,707 540,706.9 540.125,707.5 540.25,707.5 540.375,708 540.5,706.1 540.625,707.9 540.75,707.5 540.875,706.4 541,706.9 541.125,706.8 541.25,707.3 541.375,707.5 541.5,706.3 541.625,707.7 541.75,707.3 541.875,706.4 542,707.3 542.125,706 542.25,707.8 542.375,706.9 542.5,706.9 542.625,706.7 542.75,705.9 542.875,707.2 543,705.8 543.125,704.8 543.25,705.9 543.375,704.2 543.5,703.8 543.625,703 543.75,701.7 543.875,700.4 544,698.9 544.125,697.4 544.25,696.6 544.38,695.8 544.55,665.3 544.72,692.7 544.75,691.4 544.78,692.3 544.95,348.3 545.12,691.1 545.18,691 545.35,348.3 545.52,692 545.58,692.3 545.75,637.3 545.92,694.6 546,694.7 546.125,696.5 546.25,697.5 546.375,698.1 546.5,698 546.625,698.4 546.75,697 546.875,696.5 547,696.2 547.125,695.9 547.25,694.9 547.38,693.9 547.55,665.3 547.72,691.8 547.75,692.1 547.78,691.5 547.95,352.3 548.12,691.1 548.13,691.1 548.3,352.3 548.47,692.7 548.48,692.7 548.65,637.3 548.82,695.8 548.875,695.3 549,698.5 549.125,699.2 549.25,699.9 549.375,701.9 549.5,701.3 549.625,703 549.75,704.2 549.875,705.5 550,705.6 550.125,705.4 550.25,706.5 550.375,707.3 550.5,706.2 550.625,707 550.75,705.9 550.875,706.4 551,706.5 551.125,706.2 551.25,706.3 551.375,707.2 551.5,706.7 551.625,707.4 551.75,707.5 551.875,707.4 552,707.8 552.125,707.6 552.25,707.7 552.375,706.7 552.5,707.6 552.625,708.1 552.75,707.3 552.875,707.8 553,706.7 553.125,707.6 553.25,707 553.375,707.8 553.5,707 553.625,706.2 553.75,707.3 553.875,706.9 554,707.1 554.125,707.9 554.25,708 554.375,706.3 554.5,707.3 554.625,706.7 554.75,707.2 554.875,706.4 555,707.8 555.125,707.1 555.25,707.1 555.375,706.6 555.5,708.1 555.625,707.2 555.75,707 555.875,706.6 556,707.4 556.125,706.4 556.25,705.9 556.375,705.6 556.5,706.3 556.625,705.7 556.75,705.6 556.875,704.9 557,704.5 557.125,702.8 557.25,704 557.375,701.3 557.5,702.4 557.625,701.6 557.75,700.4 557.875,699.2 558,697.2 558.13,696.6 558.3,662.3 558.47,693.8 558.48,693.7 558.65,341.3 558.73,691.8 558.82,691.2 558.88,690.9 558.9,333.3 559.05,333.3 559.07,689.9 559.22,689.4 559.23,689.4 559.4,335.3 559.57,689.2 559.58,689.2 559.75,377.3 559.88,690.1 559.92,690.3 560.05,527.3 560.18,691.9 560.22,692.1 560.35,667.3 560.52,694.5 560.625,694.8 560.75,695.7 560.875,697.8 561,699.7 561.125,699.3 561.25,699.7 561.375,702.3 561.5,701.7 561.625,704 561.75,703.1 561.875,704.3 562,703.7 562.125,704.2 562.25,706.4 562.375,705.7 562.5,706.5 562.625,706.3 562.75,707.2 562.875,706.7 563,706.7 563.125,707.8 563.25,706.8 563.375,705.9 563.5,707.7 563.625,705.9 563.75,706.8 563.875,707.4 564,705.9 564.125,707 564.25,707 564.375,707.1 564.5,706.1 564.625,707.6 564.75,707.4 564.875,707.3 565,707.7 565.125,705.9 565.25,706.5 565.375,706 565.5,705.1 565.625,705.6 565.75,705.7 565.875,704.8 566,704.7 566.125,705.2 566.25,705.6 566.375,705.6 566.5,705.2 566.625,706.6 566.75,705 566.875,706.9 567,706.9 567.125,707.4 567.25,706.9 567.375,707.1 567.5,706.5 567.625,706.1 567.75,707.5 567.875,706.3 568,707.3 568.125,707.1 568.25,707.7 568.375,705.9 568.5,707.1 568.625,706.4 568.75,707.7 568.875,706.3 569,707.2 569.125,706.7 569.25,706.3 569.375,707.4 569.5,706.7 569.625,706.1 569.75,707.6 569.875,707.1 570,707.6 570.125,707.7 570.25,707.1 570.375,707.1 570.5,706.8 570.625,706.4 570.75,706.7 570.875,707.4 571,707.2 571.125,706.8 571.25,706.4 571.375,706.6 571.5,707 571.625,707.8 571.75,706.4 571.875,707.6 572,707.3 572.125,706.4 572.25,707.9 572.375,706.3 572.5,707.7 572.625,708 572.75,707 572.875,706.4 573,707.3 573.125,706.3 573.25,707.1 573.375,706.3 573.5,707.8 573.625,707.4 573.75,707.8 573.875,706.5 574,707 574.125,706.6 574.25,707.6 574.375,706.6 574.5,706 574.625,707.9 574.75,707.4 574.875,706.2 575,706.2 575.125,706.2 575.25,707.5 575.375,706.9 575.5,708 575.625,707.2 575.75,706.9 575.875,707.6 576,707.3 576.125,707.4 576.25,707.9 576.375,708 576.5,706.5 576.625,708.2 576.75,706 576.875,706.2 577,706.1 577.125,706.5 577.25,708 577.375,707.8 577.5,707.4 577.625,707.6 577.75,708.1 577.875,706.3 578,706.3 578.125,706.6 578.25,707.7 578.375,706.5 578.5,706.4 578.625,707.3 578.75,707.7 578.875,707.8 579,707.2 579.125,706.3 579.25,707.9 579.375,707.1 579.5,707.2 579.625,706 579.75,707.5 579.875,706.5 580,707.3 580.125,706.7 580.25,706.5 580.375,706.5 580.5,706.5 580.625,707.7 580.75,707.7 580.875,707.9 581,707.6 581.125,707.9 581.25,706.6 581.375,708.3 581.5,708 581.625,706.7 581.75,706.7 581.875,706.3 582,707.6 582.125,708.3 582.25,706.8 582.375,708.1 582.5,707.1 582.625,708.7 582.75,708.6 582.875,707.3 583,707 583.125,707.2 583.25,707.3 583.375,707 583.5,708 583.625,708.1 583.75,707.5 583.875,707 584,707.6 584.125,707.7 584.25,707.2 584.375,707.2 584.5,707.5 584.625,706.1 584.75,706.2 584.875,708.1 585,707.2 585.125,707.7 585.25,707.5 585.375,708 585.5,708 585.625,708.2 585.75,708 585.875,706.9 586,708.1 586.125,706.4 586.25,706.4 586.375,707.6 586.5,706.7 586.625,706.1 586.75,707.9 586.875,707 587,707.2 587.125,707.5 587.25,707.5 587.375,707.9 587.5,706.7 587.625,707.8 587.75,707.5 587.875,706.5 588,707.7 588.125,707.7 588.25,706.4 588.375,707 588.5,707 588.625,707.7 588.75,706.8 588.875,707.3 589,707 589.125,707.1 589.25,707.7 589.375,706 589.5,706.3 589.625,705.7 589.75,707.2 589.875,707.3 590,707.6 590.125,707.3 590.25,707.3 590.375,707.5 590.5,707.4 590.625,707.4 590.75,706.2 590.875,707.1 591,706.4 591.125,708 591.25,707.6 591.375,706.1 591.5,708 591.625,707.9 591.75,707 591.875,707.6 592,707.9 592.125,706.9 592.25,706.9 592.375,707.8 592.5,707.2 592.625,707.3 592.75,706.6 592.875,708.1 593,707.8 593.125,707.1 593.25,708.2 593.375,706.6 593.5,706.3 593.625,707.7 593.75,706.7 593.875,707.8 594,706.2 594.125,707.7 594.25,708.1 594.375,708 594.5,707.2 594.625,708.1 594.75,706 594.875,706.6 595,706.8 595.125,706.6 595.25,707.1 595.375,706 595.5,706.4 595.625,707.1 595.75,707.4 595.875,707.7 596,707.3 596.125,707.3 596.25,707.8 596.375,706.1 596.5,707.6 596.625,706.9 596.75,708 596.875,707 597,706.8 597.125,708 597.25,706 597.375,707.7 597.5,707.5 597.625,706.6 597.75,707.4 597.875,706.3 598,707.6 598.125,707.4 598.25,706.6 598.375,706.4 598.5,706.3 598.625,707.5 598.75,707 598.875,707.4 599,706.8 599.125,707.7 599.25,706.5 599.375,706.7 599.5,707.8 599.625,707.6 599.75,707.5 599.875,706.2 600,707.2 600.125,706.9 600.25,706.2 600.375,707.2 600.5,706.1 600.625,707.4 600.75,708 600.875,707.7 601,706.5 601.125,707.2 601.25,706.2 601.375,706.8 601.5,706.5 601.625,707.2 601.75,706.6 601.875,706.4 602,707.1 602.125,706.9 602.25,706.2 602.375,705.9 602.5,707.1 602.625,707.5 602.75,705.9 602.875,706.7 603,705.6 603.125,706.1 603.25,706.9 603.375,706 603.5,706.6 603.625,706.3 603.75,705.9 603.875,706.6 604,706 604.125,707.2 604.25,707.2 604.375,706.5 604.5,707.1 604.625,706.5 604.75,706.9 604.875,706.3 605,706.1 605.125,706.7 605.25,706 605.375,706.2 605.5,706 605.625,707.8 605.75,707.9 605.875,706.6 606,707.2 606.125,706.1 606.25,707.1 606.375,706.3 606.5,707.4 606.625,706.5 606.75,706 606.875,706.1 607,707.1 607.125,706.9 607.25,706.7 607.375,707.1 607.5,706.9 607.625,705.9 607.75,706.1 607.875,707.3 608,706.5 608.125,705.9 608.25,707.1 608.375,706 608.5,706.1 608.625,705.9 608.75,707.6 608.875,705.8 609,705.6 609.125,707.1 609.25,706.3 609.375,707.4 609.5,706.4 609.625,706.3 609.75,706.2 609.875,706 610,707.1 610.125,707.4 610.25,705.9 610.375,707.6 610.5,707.3 610.625,707.2 610.75,706.1 610.875,706.9 611,706.1 611.125,706.5 611.25,706.1 611.375,706.2 611.5,706.2 611.625,707.5 611.75,707.2 611.875,706.6 612,706.8 612.125,706.4 612.25,706.3 612.375,707.3 612.5,707.6 612.625,706.3 612.75,706.4 612.875,707.4 613,707.8 613.125,707.9 613.25,707.5 613.375,707.4 613.5,707.5 613.625,707.7 613.75,707.5 613.875,707.2 614,707.8 614.125,707.5 614.25,706.9 614.375,705.9 614.5,705.9 614.625,706.9 614.75,707.5 614.875,707.1 615,706.2 615.125,706.8 615.25,706.3 615.375,706 615.5,706.2 615.625,705.7 615.75,707.3 615.875,707 616,707.5 616.125,706.3 616.25,706.2 616.375,707 616.5,707.5 616.625,706.7 616.75,707.4 616.875,707.2 617,706.9 617.125,705.7 617.25,707 617.375,706.3 617.5,707 617.625,706.9 617.75,707.4 617.875,707.4 618,706.1 618.125,706.8 618.25,707.2 618.375,705.6 618.5,705.9 618.625,707.2 618.75,706.8 618.875,706.5 619,707.3 619.125,706.8 619.25,707.1 619.375,705.9 619.5,707.4 619.625,705.4 619.75,707 619.875,707 620,707.5 620.125,705.8 620.25,705.8 620.375,707.4 620.5,706.4 620.625,706.7 620.75,706.2 620.875,706.9 621,705.5 621.125,707.1 621.25,705.8 621.375,706.9 621.5,706.1 621.625,706.5 621.75,706.3 621.875,706.4 622,706.1 622.125,707.4 622.25,707.4 622.375,705.5 622.5,707.2 622.625,707 622.75,707.2 622.875,706.2 623,705.5 623.125,706.7 623.25,706.9 623.375,706.8 623.5,707.4 623.625,707.3 623.75,707.4 623.875,706.7 624,705.3 624.125,707 624.25,706.1 624.375,706.9 624.5,707.2 624.625,705.5 624.75,707 624.875,707 625,705.5 625.125,706.6 625.25,706.6 625.375,705 625.5,706.6 625.625,705.2 625.75,706.3 625.875,705.7 626,706.3 626.125,706.3 626.25,704.9 626.375,705 626.5,706.6 626.625,705.4 626.75,706.7 626.875,706.3 627,706.9 627.125,705.7 627.25,705.6 627.375,705.5 627.5,705.4 627.625,706.1 627.75,706.6 627.875,707.2 628,706.1 628.125,705 628.25,706 628.375,705.7 628.5,704.9 628.625,704.9 628.75,705.1 628.875,705.4 629,706.2 629.125,705.1 629.25,705.8 629.375,705 629.5,706.2 629.625,704.7 629.75,706.4 629.875,705 630,704.8 630.125,706.5 630.25,705.1 630.375,705.6 630.5,705.5 630.625,706.3 630.75,706.1 630.875,706.3 631,705.8 631.125,705.3 631.25,705.2 631.375,705.2 631.5,705.9 631.625,705.9 631.75,705 631.875,704.5 632,706.1 632.125,705.7 632.25,705.9 632.375,704.5 632.5,706.5 632.625,704.6 632.75,704.8 632.875,705.7 633,704.8 633.125,705.5 633.25,704.8 633.375,705.2 633.5,704.2 633.625,705.2 633.75,704.4 633.875,704.8 634,705.2 634.125,704 634.25,705.6 634.375,704.1 634.5,704 634.625,704.2 634.75,704.9 634.875,704.8 635,704 635.125,705 635.25,704.2 635.375,704.2 635.5,704 635.625,704.9 635.75,704.3 635.875,705.5 636,705.6 636.125,705.5 636.25,704.1 636.375,704.9 636.5,703.8 636.625,705.5 636.75,705.3 636.875,704 637,704.8 637.125,705.2 637.25,704.1 637.375,705.2 637.5,703.6 637.625,705 637.75,703.6 637.875,704.4 638,703.3 638.125,704.5 638.25,703.2 638.375,704.3 638.5,703.9 638.625,703.4 638.75,703.5 638.875,703.2 639,703.1 639.125,703.8 639.25,704.3 639.375,702.7 639.5,702.9 639.625,703 639.75,703.1 639.875,702.1 640,703.4 640.125,702 640.25,703.5 640.375,702.2 640.5,701.7 640.625,703.3 640.75,702 640.875,703.1 641,703.6 641.125,702.6 641.25,701.9 641.375,702.8 641.5,701.4 641.625,703.3 641.75,702.7 641.875,702.6 642,702.5 642.125,702.7 642.25,703 642.375,702.4 642.5,702.2 642.625,701.2 642.75,701.7 642.875,700.9 643,701.3 643.125,701.5 643.25,701.7 643.375,701.3 643.5,699.7 643.625,700.5 643.75,700.7 643.875,700.8 644,699.3 644.125,699.6 644.25,699.5 644.375,699.1 644.5,700.1 644.625,698.8 644.75,700.1 644.875,698.7 645,699.2 645.125,698.3 645.25,699.1 645.375,698.6 645.5,697.6 645.625,696.9 645.75,698 645.875,698 646,697.9 646.125,696.6 646.25,695.9 646.375,697.5 646.5,696.5 646.625,696.7 646.75,694.7 646.875,696.1 647,695.9 647.125,694 647.25,693.2 647.375,693.3 647.5,694.4 647.625,693.4 647.75,692.7 647.875,691.7 648,691.5 648.125,692.4 648.25,691.1 648.375,690 648.5,690.1 648.625,689.3 648.75,688.2 648.875,687.8 649,687.5 649.125,687.5 649.25,687.5 649.375,687 649.5,686.3 649.625,684.8 649.75,683.9 649.875,683 650,682.3 650.125,682.9 650.25,681.9 650.375,681.3 650.5,679.7 650.625,677.9 650.75,677.3 650.875,676.9 651,676.6 651.125,674.1 651.25,672.8 651.375,672 651.5,671.8 651.625,670.5 651.75,669.1 651.875,667.3 652,667.6 652.125,666.1 652.25,665.8 652.375,664.9 652.5,663.3 652.625,661.1 652.75,660.3 652.875,659.7 653,658.9 653.125,658.2 653.25,656.1 653.375,655.8 653.5,655.8 653.625,654.1 653.75,652.6 653.875,654 654,651.6 654.125,653.1 654.25,652.3 654.375,650.7 654.5,650.6 654.625,652.3 654.75,651.4 654.875,651.8 655,652.6 655.125,652.3 655.25,653.2 655.375,654.8 655.5,654.8 655.625,655.2 655.75,656.3 655.875,657.4 656,658.1 656.125,660.3 656.25,661.4 656.375,662.6 656.5,662.5 656.625,663.8 656.75,664.1 656.875,664.9 657,668 657.125,668.5 657.25,669.6 657.375,670.4 657.5,670.6 657.625,672.5 657.75,674.3 657.875,674.5 658,676.2 658.125,676.7 658.25,678.6 658.375,678.5 658.5,679.5 658.625,680.1 658.75,681 658.875,681.9 659,682.2 659.125,684.1 659.25,683.5 659.375,684.5 659.5,685.1 659.625,686.3 659.75,687.6 659.875,686.4 660,687.2 660.125,687.4 660.25,689 660.375,688.5 660.5,689.1 660.625,690.3 660.75,690.1 660.875,690.8 661,692.7 661.125,693 661.25,692.9 661.375,693 661.5,693.1 661.625,693.7 661.75,693.4 661.875,693.8 662,695.6 662.125,695.4 662.25,694.6 662.375,695 662.5,696.8 662.625,695.9 662.75,697.1 662.875,696.5 663,695.8 663.125,697.9 663.25,696.6 663.375,697.5 663.5,696.6 663.625,697.1 663.75,698.9 663.875,697.9 664,697.6 664.125,699 664.25,698.3 664.375,699.4 664.5,699.7 664.625,699.6 664.75,700 664.875,698.8 665,700.6 665.125,700.4 665.25,700.4 665.375,700.2 665.5,699.8 665.625,700.7 665.75,700.3 665.875,702.1 666,701 666.125,702.1 666.25,700.6 666.375,701.3 666.5,702.2 666.625,700.7 666.75,701.5 666.875,701.6 667,702.6 667.125,700.9 667.25,701.9 667.375,701.2 667.5,702.9 667.625,701.7 667.75,702.5 667.875,702.2 668,702.2 668.125,701.9 668.25,701.8 668.375,703.5 668.5,702.1 668.625,703.7 668.75,703.8 668.875,703.3 669,703.3 669.125,702.4 669.25,702.8 669.375,703.2 669.5,702.4 669.625,702.1 669.75,702.8 669.875,702.8 670,702.6 670.125,703.9 670.25,702.5 670.375,704.2 670.5,704.5 670.625,703 670.75,704.4 670.875,704.2 671,703.8 671.125,704.8 671.25,704.1 671.375,704.3 671.5,704.7 671.625,703.6 671.75,703.8 671.875,704.5 672,703.2 672.125,704 672.25,704.9 672.375,703.1 672.5,704.1 672.625,704.7 672.75,704.4 672.875,704.5 673,705 673.125,704.4 673.25,704.8 673.375,704.7 673.5,703.9 673.625,704.9 673.75,705.2 673.875,704.9 674,704.8 674.125,705.1 674.25,704.2 674.375,703.6 674.5,703.9 674.625,704.7 674.75,704.1 674.875,704.2 675,704.5 675.125,704.2 675.25,705.1 675.375,704.3 675.5,704.8 675.625,704.3 675.75,704.3 675.875,705.7 676,704 676.125,705.7 676.25,704.9 676.375,704.6 676.5,704.1 676.625,705.8 676.75,704.6 676.875,705.4 677,706.1 677.125,705.4 677.25,704.7 677.375,706 677.5,704.5 677.625,706.3 677.75,705.9 677.875,705.8 678,706.3 678.125,704.5 678.25,704.4 678.375,704.5 678.5,706 678.625,704.7 678.75,705.7 678.875,705.8 679,704.8 679.125,706 679.25,706.1 679.375,704.1 679.5,705.3 679.625,704.4 679.75,705.2 679.875,705.8 680,705.1 680.125,705.8 680.25,706.1 680.375,706.2 680.5,705.5 680.625,705.8 680.75,705.6 680.875,704.3 681,704.6 681.125,704.7 681.25,705.8 681.375,704.8 681.5,704.8 681.625,705.2 681.75,705.7 681.875,705.8 682,705.4 682.125,705.6 682.25,704.4 682.375,705.2 682.5,704.8 682.625,704.4 682.75,704.9 682.875,705.9 683,705.6 683.125,704.3 683.25,706.3 683.375,706 683.5,705.1 683.625,704.7 683.75,704.9 683.875,705.1 684,705.2 684.125,705.8 684.25,706.4 684.375,705.2 684.5,706.3 684.625,704.8 684.75,706.1 684.875,706.3 685,704.3 685.125,706.1 685.25,705.1 685.375,706.3 685.5,704.3 685.625,706.6 685.75,705.1 685.875,704.9 686,706 686.125,706.7 686.25,706.6 686.375,706.5 686.5,705 686.625,705.4 686.75,704.7 686.875,705.1 687,705.2 687.125,705.9 687.25,705.9 687.375,704.3 687.5,704.3 687.625,705.4 687.75,704.6 687.875,704.7 688,705.8 688.125,705.9 688.25,704.7 688.375,704.2 688.5,704.2 688.625,705.5 688.75,706.2 688.875,705.7 689,706.4 689.125,704.4 689.25,705.8 689.375,704.7 689.5,705.8 689.625,704.4 689.75,705.5 689.875,704.8 690,705.2 690.125,704.9 690.25,706.4 690.375,706.3 690.5,705.7 690.625,704.6 690.75,704.7 690.875,705.2 691,705.4 691.125,706.4 691.25,704.5 691.375,705 691.5,705.2 691.625,704.7 691.75,705.9 691.875,705.1 692,705.1 692.125,704.8 692.25,706.2 692.375,704.8 692.5,704.6 692.625,705.2 692.75,706.1 692.875,704.5 693,706.2 693.125,706 693.25,704.7 693.375,705.1 693.5,705.6 693.625,704.6 693.75,704.9 693.875,706.1 694,705.7 694.125,704.6 694.25,704.7 694.375,706.2 694.5,705.2 694.625,704.7 694.75,705.5 694.875,706 695,705.2 695.125,704.2 695.25,704.6 695.375,705.6 695.5,704.2 695.625,704.5 695.75,705.2 695.875,705.3 696,705.5 696.125,705 696.25,705 696.375,705.3 696.5,704 696.625,704.2 696.75,704.9 696.875,703.9 697,704.6 697.125,704 697.25,704.3 697.375,704.6 697.5,704.5 697.625,704.4 697.75,704.5 697.875,704.1 698,705.2 698.125,705.2 698.25,705.3 698.375,703.9 698.5,703.9 698.625,704.8 698.75,704.8 698.875,705.4 699,703.6 699.125,704.2 699.25,703.5 699.375,704.2 699.5,704.5 699.625,704 699.75,703.7 699.875,703.8 700,704.8 700.125,704.5 700.25,703.6 700.375,704.6 700.5,703.9 700.625,704.5 700.75,703.8 700.875,705.3 701,705.4 701.125,705.1 701.25,704.3 701.375,704.3 701.5,703 701.625,703 701.75,704.6 701.875,703.1 702,703.8 702.125,703 702.25,703.9 702.375,703.1 702.5,704.7 702.625,703.6 702.75,703.9 702.875,704.1 703,703.9 703.125,703.5 703.25,703.3 703.375,703.3 703.5,702.7 703.625,702.4 703.75,702 703.875,702.6 704,703.4 704.125,702.7 704.25,702.9 704.375,703.3 704.5,703.1 704.625,703.3 704.75,702.6 704.875,703.5 705,702.5 705.125,702.7 705.25,703.6 705.375,702.9 705.5,701.4 705.625,702.1 705.75,703 705.875,702 706,701.5 706.125,702.6 706.25,702 706.375,702.2 706.5,701.4 706.625,700.6 706.75,701.9 706.875,702 707,701.9 707.125,700.9 707.25,701.9 707.375,700.9 707.5,700.1 707.625,700.1 707.75,700.2 707.875,701.5 708,700.6 708.125,700.8 708.25,700 708.375,700.7 708.5,700.6 708.625,698.9 708.75,699 708.875,700.4 709,698.8 709.125,700.2 709.25,699.4 709.375,698 709.5,697.9 709.625,698.7 709.75,698.1 709.875,698.6 710,697.4 710.125,698.3 710.25,698.3 710.375,698.3 710.5,697 710.625,697.1 710.75,696.2 710.875,697.5 711,695.9 711.125,695.5 711.25,695.7 711.375,696.8 711.5,696.4 711.625,696.3 711.75,695.5 711.875,694.4 712,695.4 712.125,694.3 712.25,694.9 712.375,693.2 712.5,694 712.625,692.3 712.75,692.2 712.875,692.7 713,691.2 713.125,691.5 713.25,690.7 713.375,690.1 713.5,690.4 713.625,689.6 713.75,688.3 713.875,687.7 714,687.3 714.125,687.3 714.25,686.1 714.375,687 714.5,684.6 714.625,685.9 714.75,683.5 714.875,682.9 715,682.9 715.125,681.2 715.25,680 715.375,680.7 715.5,678.8 715.625,679 715.75,676.5 715.875,676.8 716,674.2 716.125,674.3 716.25,672.2 716.375,669.8 716.5,669.5 716.625,666.5 716.75,665.9 716.875,664.8 717,661.4 717.125,661.2 717.25,658.4 717.375,655.5 717.5,653.3 717.625,651.9 717.75,650.1 717.875,646.9 718,644.6 718.125,641.8 718.25,638.8 718.375,635.9 718.5,632.8 718.625,627.9 718.75,625.7 718.875,620.8 719,617.2 719.125,612.4 719.25,608.2 719.375,603.9 719.5,598.9 719.625,594.6 719.75,589.3 719.875,585.2 720,580 720.125,575.3 720.25,571.2 720.375,567.7 720.5,563.4 720.625,560.7 720.75,556.1 720.875,553.6 721,550.9 721.125,550.7 721.25,549.5 721.375,548 721.4,547.9 721.5,549.6 721.625,550.5 721.75,551.3 721.875,553.3 722,556.4 722.125,559.3 722.25,562.6 722.375,566.9 722.5,570.8 722.625,575.5 722.75,579.3 722.875,583.1 723,587.9 723.125,592.7 723.25,597.6 723.375,602.8 723.5,607.6 723.625,611.7 723.75,614.3 723.875,618.7 724,623.1 724.125,626.8 724.25,630 724.375,633.3 724.5,637.8 724.625,639.7 724.75,643 724.875,646.5 725,649.2 725.125,651.9 725.25,653.5 725.375,654.8 725.5,657.3 725.625,660.7 725.75,662.7 725.875,664.1 726,666.2 726.125,667.8 726.25,668.2 726.375,670.4 726.5,671.3 726.625,673.1 726.75,673 726.875,675.1 727,677.1 727.125,676.8 727.25,679 727.375,679.5 727.5,680.7 727.625,681.3 727.75,682.6 727.875,683.4 728,684.5 728.125,683.6 728.25,685.8 728.375,686.3 728.5,686.5 728.625,687.8 728.75,688.1 728.875,688.3 729,688.5 729.125,689 729.25,689.8 729.375,689.7 729.5,690 729.625,691.4 729.75,692 729.875,691.7 730,692.4 730.125,691.9 730.25,694.1 730.375,693.2 730.5,693.9 730.625,694.5 730.75,693.4 730.875,695.2 731,694.3 731.125,694.6 731.25,694.6 731.375,696.6 731.5,696.9 731.625,697.2 731.75,697 731.875,696.1 732,697 732.125,698.2 732.25,698.5 732.375,697.4 732.5,697.8 732.625,699.2 732.75,698.2 732.875,699.1 733,699.1 733.125,699.7 733.25,698 733.375,699.2 733.5,699.1 733.625,700.1 733.75,699.8 733.875,699.4 734,699.3 734.125,699.2 734.25,700.7 734.375,700.9 734.5,700.7 734.625,701 734.75,700.1 734.875,701.1 735,701.2 735.125,701.1 735.25,701.1 735.375,701.6 735.5,702.4 735.625,700.9 735.75,702.3 735.875,700.8 736,702.2 736.125,702.3 736.25,701.8 736.375,701.2 736.5,702.4 736.625,702.4 736.75,702.6 736.875,703.3 737,703.1 737.125,701.9 737.25,702 737.375,703.4 737.5,702 737.625,703.8 737.75,702.6 737.875,704.1 738,703.3 738.125,703.3 738.25,703.2 738.375,702.2 738.5,703.5 738.625,704.1 738.75,704 738.875,702.8 739,704.2 739.125,704.4 739.25,704 739.375,702.3 739.5,703.4 739.625,704.1 739.75,703.1 739.875,703.8 740,703.5 740.125,702.7 740.25,703.3 740.375,703.8 740.5,702.9 740.625,704 740.75,704.2 740.875,703.4 741,703.2 741.125,703.7 741.25,704.6 741.375,704.6 741.5,705.4 741.625,705 741.75,703.8 741.875,704.3 742,703.4 742.125,703.9 742.25,704.2 742.375,703.7 742.5,704.5 742.625,704.1 742.75,704.5 742.875,704.8 743,703.9 743.125,705.3 743.25,703.6 743.375,703.8 743.5,704.2 743.625,705 743.75,705 743.875,705.1 744,704.9 744.125,705.5 744.25,704.3 744.375,704.1 744.5,705 744.625,704.4 744.75,705.6 744.875,704.4 745,704.2 745.125,704.8 745.25,704.1 745.375,704.7 745.5,704.8 745.625,705.3 745.75,706.3 745.875,706.1 746,704.7 746.125,706 746.25,705.1 746.375,706.2 746.5,704.9 746.625,704.6 746.75,705.3 746.875,706.6 747,705.2 747.125,705.6 747.25,704.8 747.375,706.3 747.5,706 747.625,704.6 747.75,704.7 747.875,704.5 748,705.4 748.125,705.1 748.25,704.6 748.375,705.2 748.5,706.3 748.625,706.3 748.75,706.7 748.875,706.5 749,706.8 749.125,706.1 749.25,705.6 749.375,705.2 749.5,706.2 749.625,706.7 749.75,705.1 749.875,705.1 750,705.1 750.125,707.2 750.25,706 750.375,705.9 750.5,706.1 750.625,706.8 750.75,705.2 750.875,706 751,707 751.125,706.3 751.25,705.4 751.375,706.4 751.5,705.2 751.625,706.3 751.75,705.8 751.875,706.1 752,706.3 752.125,704.8 752.25,705.9 752.375,705.1 752.5,704.8 752.625,706.1 752.75,706.8 752.875,705.7 753,706.4 753.125,705.1 753.25,706.6 753.375,705.5 753.5,706.9 753.625,706.5 753.75,706.6 753.875,705.2 754,705.7 754.125,705.5 754.25,706.7 754.375,706.4 754.5,705.1 754.625,705.7 754.75,705.4 754.875,705.9 755,706.5 755.125,704.9 755.25,706.5 755.375,706.6 755.5,705.7 755.625,707 755.75,705.6 755.875,705.8 756,706.4 756.125,706.1 756.25,706.2 756.375,707.2 756.5,707.3 756.625,706.8 756.75,707.5 756.875,707.2 757,706.8 757.125,706.2 757.25,706.5 757.375,707 757.5,705.9 757.625,705.9 757.75,706.1 757.875,706 758,706.8 758.125,705.6 758.25,706 758.375,706.9 758.5,705.8 758.625,706 758.75,706 758.875,706.1 759,705.2 759.125,704.9 759.25,705 759.375,705.9 759.5,705.6 759.625,704.3 759.75,705.8 759.875,705.7 760,706.8 760.125,705.9 760.25,705.9 760.375,705.7 760.5,705.4 760.625,706.5 760.75,706.7 760.875,707.1 761,706.6 761.125,706.5 761.25,705.4 761.375,706.2 761.5,705.8 761.625,705.7 761.75,707.2 761.875,706.7 762,705.9 762.125,707 762.25,707 762.375,705.8 762.5,706 762.625,707.1 762.75,707.2 762.875,705.8 763,706.6 763.125,706.9 763.25,706.2 763.375,706.4 763.5,705.8 763.625,707.7 763.75,706.5 763.875,707.3 764,708.1 764.125,708 764.25,709.5 764.375,709.5 764.5,709.1 764.625,707.2 764.75,706.1 764.875,706.2 765,705.1 765.125,703 765.25,702.7 765.375,701.5 765.5,698.9 765.625,698.4 765.75,697.1 765.875,696 766,696.4 766.03,695.3 766.2,377.3 766.23,694.7 766.37,694.9 766.4,377.3 766.57,695.8 766.625,696.2 766.75,696.5 766.875,697.9 767,698.7 767.125,701.2 767.25,701.9 767.375,703.5 767.5,704.5 767.625,705.4 767.75,705.8 767.875,706.3 768,706 768.125,706.3 768.25,705.8 768.375,705.8 768.5,706.4 768.625,706.2 768.75,706.6 768.875,706.9 769,706.6 769.125,706.4 769.25,705.7 769.375,706 769.5,707.5 769.625,706.3 769.75,707.4 769.875,706.3 770,705.9 770.125,706.3 770.25,707.5 770.375,706.9 770.5,707.4 770.625,706.4 770.75,706.2 770.875,706.1 771,706.9 771.125,706.5 771.25,707.3 771.375,705.8 771.5,705.7 771.625,707.6 771.75,706.6 771.875,706.4 772,707.5 772.125,707.9 772.25,708 772.375,706.6 772.5,708.1 772.625,707.3 772.75,706.5 772.875,708.1 773,706.7 773.125,707.1 773.25,707.2 773.375,706.8 773.5,707 773.625,705.9 773.75,706.4 773.875,707 774,707.6 774.125,706.9 774.25,705.8 774.375,706 774.5,707.8 774.625,707.3 774.75,707.1 774.875,707.3 775,707.9 775.125,707.7 775.25,707 775.375,706.5 775.5,706.5 775.625,706.6 775.75,706.5 775.875,707.9 776,707.3 776.125,707.1 776.25,707.2 776.375,706.9 776.5,706.9 776.625,707.2 776.75,707.8 776.875,705.9 777,705.8 777.125,706.6 777.25,707.4 777.375,707.1 777.5,706.2 777.625,706.8 777.75,706.7 777.875,706.6 778,706.1 778.125,706.7 778.25,707.8 778.375,707 778.5,706.2 778.625,707.9 778.75,708.1 778.875,708.1 779,708.2 779.125,708.1 779.25,706.6 779.375,707.1 779.5,706.7 779.625,707.2 779.75,707.6 779.875,706.7 780,707.9 780.125,707.4 780.25,707.3 780.375,706.7 780.5,706.4 780.625,706.8 780.75,706.9 780.875,707.5 781,706.9 781.125,706.2 781.25,707 781.375,706.4 781.5,707 781.625,707.1 781.75,706.8 781.875,707.8 782,707.6 782.125,707.6 782.25,706.9 782.375,706.6 782.5,706.5 782.625,707.7 782.75,707.3 782.875,707.7 783,706.5 783.125,706.9 783.25,707.2 783.375,707.3 783.5,705.7 783.625,706.8 783.75,705.7 783.875,707.2 784,707.4 784.125,706.4 784.25,706 784.375,707.5 784.5,706.2 784.625,706.8 784.75,706.2 784.875,706.1 785,707.2 785.125,706.1 785.25,707.6 785.375,706.9 785.5,707 785.625,707.5 785.75,707 785.875,706.5 786,707.8 786.125,706.9 786.25,707 786.375,707.7 786.5,706.8 786.625,707.6 786.75,706.9 786.875,707 787,706.6 787.125,706.1 787.25,706 787.375,707.1 787.5,707.5 787.625,707.7 787.75,706.4 787.875,706.5 788,706.4 788.125,706.3 788.25,706.9 788.375,706.3 788.5,706.7 788.625,706.9 788.75,706.5 788.875,706.8 789,706.6 789.125,706.2 789.25,707.3 789.375,706.5 789.5,707.5 789.625,707.1 789.75,706.2 789.875,706 790,706.1 790.125,706.6 790.25,706.4 790.375,706.3 790.5,707 790.625,707.8 790.75,708.3 790.875,706.8 791,706.7 791.125,706.8 791.25,707.1 791.375,706.9 791.5,706.8 791.625,707 791.75,706.8 791.875,707.7 792,707 792.125,706.9 792.25,706.9 792.375,707.5 792.5,707.9 792.625,706.8 792.75,707.9 792.875,706.5 793,707.8 793.125,706.7 793.25,707.5 793.375,706.3 793.5,707.7 793.625,707.8 793.75,706.7 793.875,706.5 794,707.3 794.125,706.9 794.25,706.5 794.375,707.3 794.5,707.2 794.625,706.8 794.75,707.2 794.875,707.6 795,706 795.125,707.7 795.25,706 795.375,706.5 795.5,707.3 795.625,706.4 795.75,708.2 795.875,707.1 796,707.5 796.125,707.5 796.25,706.4 796.375,708.2 796.5,706.5 796.625,708.1 796.75,706.7 796.875,707.4 797,707 797.125,706.1 797.25,706.4 797.375,707.8 797.5,707.4 797.625,707.1 797.75,706.6 797.875,708.2 798,706.3 798.125,706.4 798.25,706.1 798.375,707.8 798.5,707.7 798.625,706.4 798.75,707 798.875,707.7 799,708.1 799.125,707.6 799.25,706.7 799.375,706.5 799.5,707.2 799.625,706.1 799.75,707 799.875,706.8 800,707.1 800.125,707.2 800.25,707.3 800.375,706.3 800.5,707.2 800.625,707.6 800.75,707.1 800.875,706.2 801,706.8 801.125,708 801.25,707.4 801.375,707.4 801.5,708.4 801.625,706.4 801.75,706.5 801.875,708.2 802,707.1 802.125,707.7 802.25,708 802.375,707.8 802.5,708.3 802.625,706.9 802.75,707.6 802.875,706.8 803,706.4 803.125,706.9 803.25,707.4 803.375,707.9 803.5,706.9 803.625,706.8 803.75,706.6 803.875,708 804,708.1 804.125,706.3 804.25,706.9 804.375,708.1 804.5,706.9 804.625,708.2 804.75,707.1 804.875,707.2 805,706.8 805.125,708.1 805.25,706.2 805.375,706.2 805.5,706.2 805.625,706.6 805.75,707.5 805.875,706 806,706.7 806.125,706.6 806.25,706.6 806.375,707.6 806.5,706.1 806.625,706.5 806.75,707.5 806.875,707 807,707.6 807.125,707.1 807.25,705.9 807.375,707.2 807.5,707.2 807.625,706.2 807.75,707.8 807.875,707.7 808,706.5 808.125,707.8 808.25,706.8 808.375,706.4 808.5,706.9 808.625,707.8 808.75,707.5 808.875,706.9 809,706 809.125,706.7 809.25,706.5 809.375,706.7 809.5,707.3 809.625,706.6 809.75,708 809.875,707.1 810,706.3 810.125,707.5 810.25,706.6 810.375,706.4 810.5,707.7 810.625,706.3 810.75,707.6 810.875,706.1 811,707.4 811.125,706.8 811.25,706 811.375,706.2 811.5,706.9 811.625,707.7 811.75,706.8 811.875,706.9 812,708 812.125,707.3 812.25,706.2 812.375,707.2 812.5,707.9 812.625,707 812.75,707.4 812.875,706.6 813,707.4 813.125,708.3 813.25,708 813.375,707.8 813.5,706.2 813.625,707.3 813.75,707.4 813.875,706 814,707.5 814.125,706.7 814.25,706.1 814.375,706.2 814.5,707.9 814.625,707.2 814.75,707.7 814.875,706.8 815,707.7 815.125,707.9 815.25,707.6 815.375,708 815.5,706.7 815.625,707.6 815.75,707.3 815.875,707.5 816,707.3 816.125,707.5 816.25,707.3 816.375,706.7 816.5,707.9 816.625,706.9 816.75,707.6 816.875,708.2 817,708.1 817.125,706.6 817.25,708.3 817.375,707.8 817.5,706.5 817.625,708.2 817.75,707.9 817.875,707.7 818,706.4 818.125,707.8 818.25,706.1 818.375,707.9 818.5,706.9 818.625,706.5 818.75,706.9 818.875,707.1 819,707.2 819.125,707.6 819.25,706.1 819.375,707.4 819.5,707 819.625,707.1 819.75,706.2 819.875,707.7 820,708 820.125,706.3 820.25,707.1 820.375,706.9 820.5,707 820.625,706.5 820.75,706.5 820.875,706.6 821,708.1 821.125,706.3 821.25,708 821.375,706.3 821.5,708 821.625,706.4 821.75,706.7 821.875,708 822,706.4 822.125,706.9 822.25,707.9 822.375,706.4 822.5,706.8 822.625,707.3 822.75,706.4 822.875,707.9 823,708.1 823.125,706.5 823.25,708 823.375,706.6 823.5,707.8 823.625,706.4 823.75,707.2 823.875,706.8 824,706.9 824.125,707.3 824.25,707 824.375,706.7 824.5,707.8 824.625,706.2 824.75,706.5 824.875,707.8 825,707.9 825.125,707.5 825.25,706.7 825.375,707.1 825.5,707.5 825.625,706.6 825.75,707.8 825.875,706.6 826,706.5 826.125,707.8 826.25,706.9 826.375,706.8 826.5,706 826.625,707.5 826.75,707.2 826.875,706.3 827,707.9 827.125,706.3 827.25,707.3 827.375,707.3 827.5,705.8 827.625,707.1 827.75,707.3 827.875,707.3 828,706.3 828.125,706.4 828.25,707.2 828.375,706.6 828.5,707.1 828.625,706 828.75,707 828.875,706.6 829,705.9 829.125,707.2 829.25,705.6 829.375,706.6 829.5,706.2 829.625,706.9 829.75,705.9 829.875,705.9 830,706.1 830.125,705.5 830.25,706.3 830.375,707.1 830.5,705.2 830.625,705.8 830.75,705.7 830.875,705.5 831,706.5 831.125,705.9 831.25,706.2 831.375,704.7 831.5,704 831.625,704 831.75,703.2 831.875,703.7 832,703.8 832.125,702.3 832.25,701.9 832.375,700.7 832.5,699.9 832.625,698.9 832.75,696.9 832.875,696.3 833,695.6 833.125,695.6 833.25,697.9 833.375,697.4 833.5,698.9 833.625,700.4 833.75,700.6 833.875,702.5 834,704 834.125,704.4 834.25,704.4 834.375,704 834.5,704.8 834.625,704.7 834.75,706.3 834.875,706.1 835,705.6 835.125,705.6 835.25,706.3 835.375,706.7 835.5,706.7 835.625,705.7 835.75,705.8 835.875,706.9 836,705.4 836.125,707.4 836.25,706.9 836.375,706.5 836.5,705.7 836.625,706.2 836.75,705.9 836.875,705.5 837,706.7 837.125,707.1 837.25,706.6 837.375,706.3 837.5,707.2 837.625,707.4 837.75,706 837.875,705.5 838,705.7 838.125,706.8 838.25,706.7 838.375,705.9 838.5,705.6 838.625,707 838.75,705.9 838.875,706.5 839,707.7 839.125,707.2 839.25,708.2 839.375,707.3 839.5,707 839.625,706.3 839.75,707.3 839.875,706.5 840,706.5 840.125,706.8 840.25,706.6 840.375,706.9 840.5,706.6 840.625,706.7 840.75,705.7 840.875,707.4 841,705.8 841.125,706.1 841.25,707.5 841.375,706.1 841.5,706.8 841.625,706.3 841.75,706.1 841.875,705.5 842,705.9 842.125,705.6 842.25,706.7 842.375,707.1 842.5,706 842.625,705.3 842.75,707.4 842.875,705.6 843,706.7 843.125,706.3 843.25,707.1 843.375,706.4 843.5,707.1 843.625,706.5 843.75,707.6 843.875,707.4 844,706.8 844.125,708 844.25,706.1 844.375,706.8 844.5,706.1 844.625,707.6 844.75,706.6 844.875,707.6 845,707.9 845.125,707 845.25,707 845.375,706.8 845.5,707 845.625,707.6 845.75,706.6 845.875,707.7 846,707.8 846.125,706.8 846.25,706.9 846.375,707 846.5,706.6 846.625,706.8 846.75,708.1 846.875,706.6 847,707.6 847.125,707.5 847.25,708.1 847.375,707.8 847.5,707.4 847.625,708.5 847.75,707.1 847.875,707.7 848,706.8 848.125,706.8 848.25,707 848.375,708.1 848.5,707 848.625,707.4 848.75,706.7 848.875,706.6 849,707.1 849.125,706.7 849.25,707.9 849.375,706.4 849.5,706.2 849.625,706.3 849.75,706.5 849.875,707.5 850,706.3 850.125,707 850.25,707.6 850.375,706.9 850.5,706.2 850.625,706.6 850.75,706.2 850.875,708 851,705.9 851.125,706 851.25,706.9 851.375,706 851.5,707.6 851.625,707.3 851.75,707.8 851.875,706.7 852,706.1 852.125,706.1 852.25,707.7 852.375,706.2 852.5,706.6 852.625,707.1 852.75,705.5 852.875,706.1 853,707.1 853.125,706.4 853.25,705.8 853.375,705.6 853.5,707.2 853.625,706.4 853.75,707.6 853.875,705.9 854,707.8 854.125,705.9 854.25,706.8 854.375,706.4 854.5,706.7 854.625,707 854.75,707.3 854.875,707.7 855,707.5 855.125,708.1 855.25,707.7 855.375,707 855.5,707.1 855.625,707.1 855.75,707.2 855.875,706.4 856,706.6 856.125,707.8 856.25,707.2 856.375,706.3 856.5,707.8 856.625,706.7 856.75,706.7 856.875,706.6 857,706.9 857.125,706.6 857.25,707.3 857.375,706 857.5,706.8 857.625,707.2 857.75,706.7 857.875,706.6 858,706.1 858.125,706.7 858.25,707 858.375,707.4 858.5,707.2 858.625,707.4 858.75,706.8 858.875,706.3 859,706.9 859.125,707.7 859.25,708 859.375,706.3 859.5,707.6 859.625,706.8 859.75,706.2 859.875,706.2 860,707.1 860.125,706.3 860.25,707.3 860.375,706.2 860.5,706.7 860.625,708 860.75,706.4 860.875,707.8 861,706 861.125,708 861.25,706.6 861.375,707.9 861.5,707 861.625,707.4 861.75,706.4 861.875,707.7 862,706.7 862.125,706.4 862.25,708.3 862.375,706.9 862.5,708.2 862.625,706.7 862.75,706.4 862.875,707.8 863,706.3 863.125,707.2 863.25,707.6 863.375,706.2 863.5,707.4 863.625,707.7 863.75,707.3 863.875,706.1 864,705.9 864.125,707 864.25,707 864.375,706.9 864.5,706.4 864.625,708.2 864.75,706.4 864.875,706 865,707.2 865.125,707.1 865.25,706.1 865.375,707.3 865.5,707.4 865.625,706.4 865.75,707.1 865.875,706.6 866,707.3 866.125,706.6 866.25,707.3 866.375,706.4 866.5,707 866.625,706.3 866.75,706.9 866.875,706.3 867,707.1 867.125,706.7 867.25,707.7 867.375,707.1 867.5,706.9 867.625,707.9 867.75,707.1 867.875,706.3 868,707.7 868.125,707 868.25,706.4 868.375,707.3 868.5,708.2 868.625,707.1 868.75,707.2 868.875,706.3 869,706.9 869.125,706.7 869.25,707.5 869.375,706.3 869.5,706.6 869.625,708.1 869.75,707 869.875,706.3 870,706.8 870.125,706.2 870.25,707.7 870.375,707.1 870.5,707.1 870.625,707.4 870.75,706.5 870.875,707.3 871,706.8 871.125,706.7 871.25,706.6 871.375,707.9 871.5,708.1 871.625,706.5 871.75,706.9 871.875,707.9 872,707.9 872.125,707.3 872.25,708 872.375,706.3 872.5,707.9 872.625,706.2 872.75,706.7 872.875,707 873,706.6 873.125,706.6 873.25,707.4 873.375,707.1 873.5,707.8 873.625,707.8 873.75,706.1 873.875,706.3 874,706.4 874.125,707.8 874.25,706.8 874.375,706.6 874.5,707.2 874.625,707.3 874.75,706.6 874.875,708.1 875,707.3 875.125,707.7 875.25,707.3 875.375,707.1 875.5,707.5 875.625,706.5 875.75,706.5 875.875,706.8 876,706.8 876.125,707.3 876.25,707.7 876.375,706.4 876.5,707.9 876.625,706.8 876.75,706.7 876.875,707.8 877,707.5 877.125,706.6 877.25,706.2 877.375,707.2 877.5,707 877.625,706.7 877.75,707 877.875,707.4 878,707 878.125,707 878.25,706.9 878.375,707.4 878.5,707.2 878.625,708.2 878.75,708.3 878.875,706.9 879,708.1 879.125,707.7 879.25,706.7 879.375,708.3 879.5,707.2 879.625,708.1 879.75,707.2 879.875,706.8 880,706.8 880.125,706.9 880.25,707.4 880.375,707.2 880.5,708.1 880.625,708.2 880.75,706.9 880.875,708.3 881,706.4 881.125,708 881.25,706.9 881.375,707.4 881.5,707.1 881.625,706.8 881.75,707.7 881.875,706.8 882,706.9 882.125,707.3 882.25,707.2 882.375,707.6 882.5,706.4 882.625,707.5 882.75,707.8 882.875,707.1 883,706.5 883.125,706.5 883.25,707.2 883.375,707.5 883.5,706.6 883.625,707 883.75,706.5 883.875,706.5 884,706.8 884.125,706.3 884.25,707 884.375,706.2 884.5,706.9 884.625,707.9 884.75,706.9 884.875,706.6 885,707.4 885.125,708 885.25,707.6 885.375,706.6 885.5,707.8 885.625,708.2 885.75,706.4 885.875,706.3 886,706.3 886.125,706.4 886.25,706.6 886.375,707 886.5,706.6 886.625,706.4 886.75,707.2 886.875,707.7 887,706.7 887.125,706.8 887.25,706 887.375,707.1 887.5,707.1 887.625,707.8 887.75,708.1 887.875,707.8 888,707 888.125,706.2 888.25,708 888.375,707.8 888.5,706.7 888.625,707.5 888.75,708 888.875,706.4 889,708 889.125,707.4 889.25,706.8 889.375,706.7 889.5,706.4 889.625,707.2 889.75,708.1 889.875,708.3 890,707.2 890.125,707.3 890.25,707.9 890.375,708 890.5,707.4 890.625,707.5 890.75,707.3 890.875,707.2 891,706.4 891.125,707 891.25,706.2 891.375,706.8 891.5,707.3 891.625,706.1 891.75,706.8 891.875,706.4 892,707.7 892.125,706.1 892.25,706.9 892.375,707.5 892.5,707.8 892.625,708.1 892.75,708.2 892.875,707.9 893,707.6 893.125,707.1 893.25,707.5 893.375,708.2 893.5,708 893.625,708.4 893.75,708.3 893.875,707.8 894,707.1 894.125,708 894.25,706.5 894.375,706.4 894.5,707 894.625,708.1 894.75,707.8 894.875,707.1 895,706.2 895.125,706 895.25,706.5 895.375,706.2 895.5,707.8 895.625,707.1 895.75,707.1 895.875,707.6 896,707 896.125,707.1 896.25,706.2 896.375,708.2 896.5,707.8 896.625,708 896.75,708 896.875,707.8 897,707.9 897.125,706.6 897.25,707.9 897.375,707.6 897.5,708.2 897.625,708 897.75,707.7 897.875,706.6 898,706.6 898.125,706.1 898.25,705 898.33,704.5 898.5,701.3 898.67,704.5 898.75,705.9 898.875,704.6 899,706.8 899.125,706.6 899.25,705.7 899.375,707.6 899.5,707.9 899.625,707.1 899.75,706.7 899.875,707.3 900,707.7 900.125,706.7 900.25,707 900.375,707.6 900.5,707.1 900.625,706.7 900.75,707.3 900.875,707.6 901,707.1 901.125,707.2 901.25,708.1 901.375,706.4 901.5,708 901.625,706.7 901.75,707.4 901.875,706.4 902,706.9 902.125,706.2 902.25,707.1 902.375,707.6 902.5,706.5 902.625,706.5 902.75,707.2 902.875,706.2 903,706.9 903.125,706.3 903.25,707.8 903.375,706.4 903.5,706.7 903.625,706.4 903.75,707.6 903.875,707.2 904,706.5 904.125,707 904.25,707.7 904.375,707.8 904.5,706.3 904.625,706.9 904.75,708.2 904.875,707.8 905,707.2 905.125,707.9 905.25,707.3 905.375,706.8 905.5,708.1 905.625,707.7 905.75,706.4 905.875,708.1 906,707.9 906.125,706.6 906.25,706.8 906.375,707.2 906.5,706.4 906.625,707.9 906.75,708.3 906.875,706.6 907,706.9 907.125,707.6 907.25,707.1 907.375,708.1 907.5,707.7 907.625,707 907.75,706.5 907.875,707.7 908,708.1 908.125,708 908.25,707.7 908.375,707 908.5,706.7 908.625,706.9 908.75,706.6 908.875,707 909,707.1 909.125,707.3 909.25,707 909.375,706.7 909.5,706.2 909.625,707.8 909.75,706.8 909.875,707.9 910,707.9 910.125,706.2 910.25,707.2 910.375,706.8 910.5,707.5 910.625,706.9 910.75,707.9 910.875,706.9 911,706.1 911.125,706.7 911.25,706.8 911.375,707 911.5,707.4 911.625,706.5 911.75,707.3 911.875,707.5 912,707.1 912.125,706.2 912.25,706.7 912.375,706.8 912.5,708 912.625,706.5 912.75,707.4 912.875,707 913,707.1 913.125,706.7 913.25,708.3 913.375,708.1 913.5,707.6 913.625,707.9 913.75,706.8 913.875,708 914,708 914.125,707 914.25,708 914.375,706.6 914.5,707.6 914.625,707.6 914.75,706.9 914.875,706.1 915,707.6 915.125,707.7 915.25,707.4 915.375,706.6 915.5,706.3 915.625,708 915.75,708.2 915.875,707.5 916,707.4 916.125,706.4 916.25,706.5 916.375,706.4 916.5,707.1 916.625,707 916.75,706 916.875,707.8 917,707.9 917.125,708 917.25,706.3 917.375,707 917.5,706.7 917.625,706.8 917.75,706.5 917.875,707.2 918,707.7 918.125,708.3 918.25,707.7 918.375,708.2 918.5,706.5 918.625,706.9 918.75,708 918.875,707.6 919,707.5 919.125,707.3 919.25,706.5 919.375,707.9 919.5,707.1 919.625,707.2 919.75,706.2 919.875,707.7 920,706.9 920.125,708 920.25,707 920.375,706.1 920.5,706.8 920.625,708.2 920.75,706.3 920.875,707.2 921,707.1 921.125,706.4 921.25,707.2 921.375,708.1 921.5,707.6 921.625,707 921.75,707.6 921.875,708.1 922,707.6 922.125,708.2 922.25,708.1 922.375,708.1 922.5,707.2 922.625,707.6 922.75,707.8 922.875,706.5 923,706.7 923.125,706.3 923.25,707.7 923.375,706.7 923.5,707.4 923.625,706.9 923.75,707 923.875,706.7 924,706.7 924.125,706 924.25,706.6 924.375,707.3 924.5,706.2 924.625,707.6 924.75,706.2 924.875,706.6 925,707.3 925.125,706.2 925.25,707.6 925.375,707.9 925.5,707.4 925.625,706.8 925.75,706.6 925.875,707.4 926,706.9 926.125,706 926.25,706.1 926.375,706.8 926.5,707.8 926.625,707.5 926.75,706.7 926.875,706.6 927,706.4 927.125,707.7 927.25,707.7 927.375,707.7 927.5,706.9 927.625,706.5 927.75,707.3 927.875,707.5 928,707.1 928.125,707.5 928.25,707.3 928.375,708 928.5,708.2 928.625,707.6 928.75,707.8 928.875,707.9 929,706.2 929.125,706.8 929.25,707.5 929.375,706.3 929.5,708.1 929.625,707.7 929.75,706.4 929.875,706.3 930,706.7 930.125,708 930.25,707.3 930.375,708.4 930.5,708.4 930.625,706.8 930.75,708.5 930.875,708.3 931,708.3 931.125,707 931.25,707.1 931.375,707.9 931.5,707.6 931.625,706.5 931.75,708 931.875,708.2 932,706.9 932.125,707.9 932.25,706.9 932.375,707.5 932.5,708 932.625,706.8 932.75,706.6 932.875,707.5 933,707.8 933.125,706 933.25,707.6 933.375,707.6 933.5,707.4 933.625,707.7 933.75,707.6 933.875,706.3 934,708 934.125,706.5 934.25,707.1 934.375,708.2 934.5,708 934.625,706.8 934.75,707 934.875,707.8 935,707.6 935.125,706.3 935.25,706.8 935.375,707 935.5,706.4 935.625,707.7 935.75,707.6 935.875,706.4 936,707.2 936.125,707.3 936.25,706.6 936.375,706.1 936.5,706.4 936.625,706.6 936.75,707.2 936.875,706.7 937,707.8 937.125,707.8 937.25,707.9 937.375,707 937.5,706.4 937.625,706.7 937.75,707.8 937.875,707 938,707.6 938.125,706.6 938.25,707.4 938.375,707.8 938.5,707.7 938.625,708.1 938.75,707.6 938.875,707.6 939,707.4 939.125,706.9 939.25,706.4 939.375,706.6 939.5,707 939.625,707.4 939.75,707.7 939.875,706.9 940,708 940.125,708 940.25,706.8 940.375,707.8 940.5,706.4 940.625,706.9 940.75,707.3 940.875,706.4 941,708.2 941.125,707.8 941.25,707.4 941.375,706.5 941.5,708.3 941.625,707.1 941.75,706.4 941.875,708 942,706.8 942.125,706.9 942.25,707.4 942.375,707.1 942.5,706.3 942.625,707.4 942.75,707.4 942.875,707.2 943,708.3 943.125,706.8 943.25,708.4 943.375,706.4 943.5,706.4 943.625,706.7 943.75,706.5 943.875,707.1 944,707.8 944.125,707.2 944.25,706.9 944.375,708 944.5,706.6 944.625,707.6 944.75,707.2 944.875,707.8 945,707.7 945.125,706.5 945.25,706.8 945.375,708.2 945.5,706.7 945.625,706.3 945.75,706.9 945.875,706.9 946,707.9 946.125,706.9 946.25,707.6 946.375,706.4 946.5,706.9 946.625,707.7 946.75,706.5 946.875,706.8 947,708 947.125,707.9 947.25,708.3 947.375,706.7 947.5,708 947.625,707.6 947.75,706.6 947.875,707.5 948,707.6 948.125,707.9 948.25,707.9 948.375,706.7 948.5,707.7 948.625,706 948.75,707.9 948.875,707.5 949,707.8 949.125,706.4 949.25,706.7 949.375,708 949.5,708 949.625,708.1 949.75,706.7 949.875,706.7 950,706.8 950.125,707.3 950.25,707.4 950.375,707 950.5,708 950.625,706.5 950.75,706.5 950.875,706.8 951,707.8 951.125,707.8 951.25,706.3 951.375,706.3 951.5,706.8 951.625,706.6 951.75,707.3 951.875,706.3 952,706.7 952.125,707.3 952.25,706.7 952.375,708.1 952.5,707.5 952.625,706.5 952.75,707.3 952.875,707.1 953,707.3 953.125,706.5 953.25,708 953.375,707.2 953.5,707.5 953.625,707.9 953.75,708.3 953.875,707 954,707.9 954.125,707.2 954.25,707.4 954.375,707.4 954.5,706.4 954.625,708.1 954.75,707.1 954.875,707.4 955,708 955.125,707.6 955.25,706.7 955.375,708 955.5,707 955.625,707.8 955.75,707.3 955.875,707.3 956,708.2 956.125,706.7 956.25,707.5 956.375,708 956.5,707.9 956.625,706.4 956.75,706.5 956.875,707.6 957,708 957.125,707.2 957.25,708.5 957.375,706.9 957.5,708.7 957.625,708.7 957.75,708.2 957.875,707.8 958,708.8 958.125,708.3 958.25,706.8 958.375,707.1 958.5,708.6 958.625,706.9 958.75,707.8 958.875,706.7 959,708 959.125,708 959.25,707.2 959.375,707.7 959.5,708.1 959.625,707.5 959.75,707.2 959.875,707.9 960,706.9 960.125,707 960.25,707 960.375,707.1 960.5,708.1 960.625,707 960.75,708.1 960.875,708.1 961,707.4 961.125,708 961.25,708.1 961.375,707.2 961.5,706.3 961.625,708.3 961.75,707.4 961.875,708.1 962,707.2 962.125,707.2 962.25,707.4 962.375,708.4 962.5,706.9 962.625,707.3 962.75,707 962.875,706.8 963,706.4 963.125,707.4 963.25,706.4 963.375,708.1 963.5,707.4 963.625,707.9 963.75,707.4 963.875,706.3 964,706.1 964.125,707.2 964.25,707.6 964.375,707.7 964.5,706.4 964.625,707.5 964.75,707.9 964.875,706.6 965,707.2 965.125,707.5 965.25,706.5 965.375,706.8 965.5,708.4 965.625,706.4 965.75,707.6 965.875,708 966,706.5 966.125,707.4 966.25,706.9 966.375,706.8 966.5,708 966.625,706.2 966.75,707.1 966.875,708.2 967,707.1 967.125,708.2 967.25,706.2 967.375,706.9 967.5,707.4 967.625,706.6 967.75,706.7 967.875,706.8 968,707.8 968.125,708.1 968.25,706.6 968.375,706.5 968.5,707.7 968.625,707.5 968.75,707.5 968.875,707.8 969,706.5 969.125,707.4 969.25,707 969.375,707.4 969.5,708.4 969.625,708.4 969.75,708.2 969.875,707.4 970,707 970.125,706.3 970.25,706.5 970.375,706.9 970.5,707.5 970.625,707.6 970.75,706.8 970.875,707.4 971,706.6 971.125,706.7 971.25,708.1 971.375,706.7 971.5,708.2 971.625,707.8 971.75,706.4 971.875,707.1 972,706.6 972.125,706.5 972.25,707.9 972.375,706.8 972.5,707.7 972.625,708.3 972.75,708.1 972.875,708.1 973,707 973.125,707 973.25,706.5 973.375,707.8 973.5,706.9 973.625,707.9 973.75,707.8 973.875,707 974,707.6 974.125,706.3 974.25,707.9 974.375,708 974.5,706.6 974.625,706.6 974.75,708.2 974.875,707.8 975,707.4 975.125,708.4 975.25,707.8 975.375,707.1 975.5,707 975.625,708.2 975.75,707.8 975.875,708.1 976,707.2 976.125,708.3 976.25,706.5 976.375,708.3 976.5,707.5 976.625,707.1 976.75,706.6 976.875,707.3 977,706.8 977.125,707.7 977.25,708.2 977.375,707.8 977.5,707.3 977.625,707.4 977.75,706.9 977.875,707.4 978,707.7 978.125,707.4 978.25,707.3 978.375,708.3 978.5,707.6 978.625,707.1 978.75,706.8 978.875,707.3 979,706.8 979.125,707.3 979.25,707.7 979.375,708 979.5,706.8 979.625,706.5 979.75,707 979.875,708.1 980,707.1 980.125,707.5 980.25,706.7 980.375,708.6 980.5,706.9 980.625,707.5 980.75,706.6 980.875,707.1 981,708.4 981.125,707 981.25,707.4 981.375,707.9 981.5,708.1 981.625,707.6 981.75,707.2 981.875,707.3 982,708.4 982.125,708.2 982.25,707 982.375,707.4 982.5,706.9 982.625,707.5 982.75,707.8 982.875,706.6 983,707.9 983.125,708.2 983.25,707.5 983.375,707.4 983.5,707.9 983.625,706.3 983.75,707.8 983.875,708 984,706.8 984.125,708 984.25,707.7 984.375,707.5 984.5,707.8 984.625,707 984.75,708.1 984.875,707 985,708.1 985.125,707.2 985.25,706.4 985.375,706.7 985.5,706.4 985.625,707.3 985.75,708.1 985.875,707.6 986,706.8 986.125,708.1 986.25,707 986.375,707.8 986.5,706.5 986.625,707.6 986.75,707.6 986.875,707.6 987,707 987.125,706.2 987.25,707.1 987.375,706.6 987.5,707.1 987.625,708 987.75,706.8 987.875,706.8 988,706.7 988.125,707.3 988.25,707.4 988.375,707.3 988.5,708 988.625,707.6 988.75,707.3 988.875,706.9 989,706.1 989.125,706.6 989.25,707.1 989.375,706.6 989.5,707.3 989.625,708.1 989.75,706.7 989.875,706.7 990,706.8 990.125,706.5 990.25,706.7 990.375,706.5 990.5,708.1 990.625,706.1 990.75,706.9 990.875,707 991,707 991.125,707.9 991.25,707.9 991.375,706.7 991.5,707.3 991.625,706.5 991.75,708.1 991.875,707.2 992,707.2 992.125,708.5 992.25,707.3 992.375,707.8 992.5,707.6 992.625,708 992.75,707 992.875,706.9 993,706.4 993.125,706.3 993.25,706.1 993.375,706.2 993.5,706.7 993.625,707.6 993.75,707.1 993.875,708 994,707 994.125,707.5 994.25,707.2 994.375,706.8 994.5,708.3 994.625,706.7 994.75,708.4 994.875,707.5 995,708.1 995.125,708.5 995.25,707.4 995.375,707.9 995.5,708.3 995.625,706.7 995.75,707.9 995.875,706.4 996,707 996.125,707.6 996.25,708.1 996.375,706.4 996.5,707.9 996.625,706.6 996.75,707.2 996.875,707.3 997,708.2 997.125,707.6 997.25,708.4 997.375,706.8 997.5,707 997.625,708.2 997.75,707.6 997.875,708.2 998,707.2 998.125,708.2 998.25,708.3 998.375,708 998.5,706.5 998.625,706.7 998.75,707.6 998.875,706.8 999,707.8 999.125,708 999.25,706.5 999.375,708.4 999.5,706.7 999.625,706.4 999.75,708.2 999.875,706.5 1000,706.8 1000.125,708.4 1000.25,707.5 1000.375,707.9 1000.5,707.6 1000.625,707.6 1000.75,707.6 1000.875,708.3 1001,707.8 1001.125,707.8 1001.25,707.1 1001.375,707 1001.5,706.8 1001.625,707.1 1001.75,706.4 1001.875,707.2 1002,707.6 1002.125,708.2 1002.25,706.8 1002.375,707.2 1002.5,707.9 1002.625,707.1 1002.75,706.1 1002.875,706.8 1003,707.4 1003.125,706.3 1003.25,707.3 1003.375,708 1003.5,707.9 1003.625,705.9 1003.75,707.7 1003.875,706.3 1004,708 1004.125,707.3 1004.25,707.7 1004.375,707.6 1004.5,708.2 1004.625,707.6 1004.75,706.9 1004.875,707.3 1005,708.2 1005.125,707 1005.25,706.8 1005.375,707.6 1005.5,707.9 1005.625,708.6 1005.75,708.4 1005.875,707.8 1006,708.4 1006.125,706.4 1006.25,706.9 1006.375,707.6 1006.5,707.2 1006.625,707.9 1006.75,706.3 1006.875,707.2 1007,706.7 1007.125,707.6 1007.25,707.1 1007.375,706.5 1007.5,707.1 1007.625,707.8 1007.75,707.1 1007.875,706.4 1008,707.2 1008.125,706 1008.25,707 1008.375,706.3 1008.5,708.1 1008.625,706.8 1008.75,707.1 1008.875,707.5 1009,706.4 1009.125,708.2 1009.25,707.3 1009.375,707.7 1009.5,706.3 1009.625,706.7 1009.75,707.9 1009.875,707.9 1010,708.2 1010.125,708.1 1010.25,706.5 1010.375,706.6 1010.5,706.7 1010.625,707.6 1010.75,707.4 1010.875,707 1011,706.6 1011.125,708.2 1011.25,707.9 1011.375,707.2 1011.5,708.1 1011.625,706.3 1011.75,708.2 1011.875,706.3 1012,707.9 1012.125,707.9 1012.25,707.4 1012.375,707 1012.5,706.3 1012.625,707.3 1012.75,706.5 1012.875,706.3 1013,706.2 1013.125,707.4 1013.25,707.1 1013.375,707.9 1013.5,707.2 1013.625,707.3 1013.75,707.9 1013.875,706.5 1014,707.6 1014.125,707.9 1014.25,707.9 1014.375,708.1 1014.5,706.6 1014.625,707.2 1014.75,707.2 1014.875,707.4 1015,706.3 1015.125,707.5 1015.25,707.2 1015.375,706.7 1015.5,706.4 1015.625,706.5 1015.75,706.5 1015.875,708.1 1016,706.3 1016.125,706.5 1016.25,707.5 1016.375,706.6 1016.5,706.2 1016.625,706.7 1016.75,706.6 1016.875,706.4 1017,706.2 1017.125,706.4 1017.25,707.8 1017.375,707.5 1017.5,707.7 1017.625,707 1017.75,707.7 1017.875,706.8 1018,706 1018.125,705.9 1018.25,707.9 1018.375,706.5 1018.5,707.8 1018.625,706.2 1018.75,708.1 1018.875,707.8 1019,707.4 1019.125,708.1 1019.25,706.7 1019.375,707.7 1019.5,706.7 1019.625,706.2 1019.75,707.2 1019.875,707.2 1020,706.1 1020.125,707.5 1020.25,706.3 1020.375,706.8 1020.5,708.3 1020.625,707.8 1020.75,706.9 1020.875,708.3 1021,706.5 1021.125,706.4 1021.25,706.6 1021.375,706.6 1021.5,707.1 1021.625,706.6 1021.75,707.3 1021.875,707.3 1022,706.7 1022.125,707.3 1022.25,707.6 1022.375,707.7 1022.5,707.3 1022.625,707.5 1022.75,706.6 1022.875,706.6 1023,706.7 1023.125,706.7 1023.25,707.6 1023.375,707.7 1023.5,706.7 1023.625,708 1023.75,706.9 1023.875,707.2 1024,706.9 1024.125,706.9 1024.25,706.9 1024.375,707.8 1024.5,708.2 1024.625,706.2 1024.75,706.3 1024.875,707.1 1025,706.7 1025.125,708.1 1025.25,707.3 1025.375,707.1 1025.5,706.8 1025.625,708 1025.75,708.2 1025.875,706.3 1026,706.5 1026.125,707.9 1026.25,706.6 1026.375,706.6 1026.5,707.9 1026.625,706.6 1026.75,707.4 1026.875,707.4 1027,707.7 1027.125,706.7 1027.25,706.8 1027.375,707.1 1027.5,708 1027.625,706.5 1027.75,707.4 1027.875,707.6 1028,706.8 1028.125,707.7 1028.25,706.3 1028.375,706.9 1028.5,706.6 1028.625,707.5 1028.75,707.3 1028.875,707.7 1029,707.8 1029.125,707.4 1029.25,706.7 1029.375,707.3 1029.5,706.7 1029.625,708.2 1029.75,707.9 1029.875,708.2 1030,706.4 1030.125,708.2 1030.25,707.2 1030.375,706.9 1030.5,707.8 1030.625,706 1030.75,706.1 1030.875,707.6 1031,707.8 1031.125,706.8 1031.25,707.1 1031.375,707 1031.5,707 1031.625,706.3 1031.75,706.8 1031.875,707.8 1032,706.9 1032.125,707.6 1032.25,706.5 1032.375,707.5 1032.5,708.5 1032.625,706.5 1032.75,707.9 1032.875,706.8 1033,707.2 1033.125,706.9 1033.25,706.9 1033.375,706.4 1033.5,706.6 1033.625,707 1033.75,707.8 1033.875,707.4 1034,708 1034.125,707.9 1034.25,707.6 1034.375,707.6 1034.5,707.9 1034.625,707.9 1034.75,707.9 1034.875,708.1 1035,707.2 1035.125,708.3 1035.25,707.8 1035.375,708 1035.5,706.8 1035.625,707.6 1035.75,708 1035.875,706.6 1036,707.4 1036.125,706.8 1036.25,707.7 1036.375,707.8 1036.5,707.4 1036.625,708.3 1036.75,706.5 1036.875,708.2 1037,706.6 1037.125,707.1 1037.25,706.9 1037.375,707.9 1037.5,706.6 1037.625,707.2 1037.75,707.6 1037.875,708 1038,708 1038.125,706.5 1038.25,706.4 1038.375,707.6 1038.5,707 1038.625,707 1038.75,707.4 1038.875,707.5 1039,707.3 1039.125,707.8 1039.25,706.9 1039.375,707.6 1039.5,707.4 1039.625,708.1 1039.75,706.3 1039.875,708.2 1040,706.8 1040.125,706.9 1040.25,707.6 1040.375,706.2 1040.5,708.1 1040.625,707.5 1040.75,707.4 1040.875,706.8 1041,706.9 1041.125,706.7 1041.25,706.4 1041.375,708.2 1041.5,707.1 1041.625,707.5 1041.75,706.8 1041.875,707.3 1042,707.7 1042.125,708.3 1042.25,707.7 1042.375,707.3 1042.5,707.5 1042.625,707.4 1042.75,706.9 1042.875,707.6 1043,706.5 1043.125,707.5 1043.25,707.4 1043.375,707.4 1043.5,706.5 1043.625,707.1 1043.75,706.4 1043.875,708.4 1044,706.5 1044.125,708.2 1044.25,706.8 1044.375,708.4 1044.5,706.8 1044.625,707.2 1044.75,707.2 1044.875,707.8 1045,707.8 1045.125,708.2 1045.25,708.3 1045.375,707.3 1045.5,707.8 1045.625,708.3 1045.75,708 1045.875,708.1 1046,708 1046.125,707.5 1046.25,706.4 1046.375,707.1 1046.5,706.8 1046.625,708.2 1046.75,706.9 1046.875,706.6 1047,706.3 1047.125,706.9 1047.25,707.1 1047.375,706.2 1047.5,708 1047.625,706.5 1047.75,706.7 1047.875,706.8 1048,707.6 1048.125,708.1 1048.25,708 1048.375,706.9 1048.5,707.6 1048.625,706.3 1048.75,708 1048.875,706.7 1049,707.4 1049.125,707.7 1049.25,707.8 1049.375,707.5 1049.5,707.4 1049.625,707.8 1049.75,707.8 1049.875,706.2 1050,707.4 1050.125,707.1 1050.25,706.9 1050.375,707.6 1050.5,706.3 1050.625,707.7 1050.75,708 1050.875,708.2 1051,707.7 1051.125,708.1 1051.25,706.9 1051.375,707 1051.5,708.2 1051.625,706.2 1051.75,706.7 1051.875,707 1052,706.1 1052.125,706.9 1052.25,707.7 1052.375,706.5 1052.5,706.2 1052.625,708.1 1052.75,707.3 1052.875,707.9 1053,706.3 1053.125,708 1053.25,706.6 1053.375,707.9 1053.5,707.1 1053.625,707.1 1053.75,706.9 1053.875,708.4 1054,707.5 1054.125,708 1054.25,708 1054.375,707.9 1054.5,707.9 1054.625,706.3 1054.75,707.1 1054.875,707.7 1055,707.3 1055.125,708.2 1055.25,707.9 1055.375,707 1055.5,706.8 1055.625,707.1 1055.75,706.3 1055.875,706.3 1056,706.6 1056.125,707.3 1056.25,706.7 1056.375,707.8 1056.5,706.5 1056.625,707.7 1056.75,706.1 1056.875,708.2 1057,706.4 1057.125,707.1 1057.25,706.5 1057.375,707.2 1057.5,706.5 1057.625,706.9 1057.75,707 1057.875,706.3 1058,708.1 1058.125,706.4 1058.25,707.3 1058.375,706.8 1058.5,707 1058.625,707.6 1058.75,707.3 1058.875,706.3 1059,707.4 1059.125,706.5 1059.25,708.4 1059.375,707.3 1059.5,707 1059.625,707.7 1059.75,708.4 1059.875,706.9 1060,706.9 1060.125,707.6 1060.25,708.2 1060.375,706.7 1060.5,706.7 1060.625,706.6 1060.75,706.6 1060.875,707.6 1061,707 1061.125,707.3 1061.25,707.3 1061.375,707.2 1061.5,706.7 1061.625,706 1061.75,707.1 1061.875,707.3 1062,706.8 1062.125,706.8 1062.25,707.3 1062.375,706.8 1062.5,706.8 1062.625,706.7 1062.75,708 1062.875,707 1063,707.6 1063.125,706.8 1063.25,707.4 1063.375,706.9 1063.5,707 1063.625,708.2 1063.75,708.4 1063.875,707 1064,708.4 1064.125,706.5 1064.25,707.1 1064.375,707.7 1064.5,707 1064.625,708.1 1064.75,706.9 1064.875,706.5 1065,708.3 1065.125,706.3 1065.25,707.6 1065.375,707.4 1065.5,706.2 1065.625,706.4 1065.75,707.2 1065.875,706 1066,708 1066.125,706.8 1066.25,707.1 1066.375,706.3 1066.5,708.1 1066.625,707.6 1066.75,707.3 1066.875,708.1 1067,707 1067.125,706.7 1067.25,706.5 1067.375,708.1 1067.5,707.3 1067.625,706.4 1067.75,708.3 1067.875,707 1068,707.9 1068.125,706.6 1068.25,707.2 1068.375,706.6 1068.5,708.2 1068.625,707 1068.75,707.4 1068.875,708 1069,707.5 1069.125,706.7 1069.25,707 1069.375,706.9 1069.5,707.5 1069.625,706.9 1069.75,707.1 1069.875,706.2 1070,706.4 1070.125,707.2 1070.25,707.1 1070.375,707.5 1070.5,707 1070.625,707.9 1070.75,706.2 1070.875,707.4 1071,708.3 1071.125,707.7 1071.25,706.3 1071.375,707.7 1071.5,707.6 1071.625,706.4 1071.75,706.7 1071.875,707.7 1072,708 1072.125,707.5 1072.25,707.5 1072.375,706.5 1072.5,707.3 1072.625,706.5 1072.75,706.4 1072.875,706.6 1073,707.4 1073.125,707.4 1073.25,707.2 1073.375,706.9 1073.5,706.6 1073.625,706.7 1073.75,707.8 1073.875,706.8 1074,707.5 1074.125,706.7 1074.25,708.3 1074.375,706.5 1074.5,706.9 1074.625,708.1 1074.75,707.9 1074.875,707.7 1075,707.3 1075.125,706.5 1075.25,706.3 1075.375,707 1075.5,708 1075.625,706.1 1075.75,706.2 1075.875,708.1 1076,706.9 1076.125,706.9 1076.25,707 1076.375,706.8 1076.5,708.3 1076.625,707.5 1076.75,707.5 1076.875,706.8 1077,708 1077.125,707.7 1077.25,707.9 1077.375,708.1 1077.5,707.2 1077.625,707.7 1077.75,707.1 1077.875,707.8 1078,706.6 1078.125,708.1 1078.25,706.7 1078.375,706.9 1078.5,707.9 1078.625,707.5 1078.75,707.4 1078.875,707.3 1079,706.9 1079.125,708.3 1079.25,707.8 1079.375,706.6 1079.5,707.8 1079.625,706.3 1079.75,707.2 1079.875,707.9 1080,706.4 1080.125,707.4 1080.25,705.8 1080.375,706 1080.5,706 1080.625,706 1080.75,707.8 1080.875,707.9 1081,707.1 1081.125,707.1 1081.25,707.3 1081.375,706.9 1081.5,706.6 1081.625,706.6 1081.75,706.5 1081.875,707 1082,706.6 1082.125,708.3 1082.25,708.3 1082.375,707.4 1082.5,706.5 1082.625,707.5 1082.75,708 1082.875,707.9 1083,707.6 1083.125,706.3 1083.25,707.3 1083.375,706.2 1083.5,706.1 1083.625,706.5 1083.75,706.3 1083.875,707.6 1084,707.8 1084.125,707.8 1084.25,708.2 1084.375,706.3 1084.5,707.9 1084.625,707 1084.75,707.7 1084.875,707.1 1085,707.3 1085.125,706.6 1085.25,707.7 1085.375,707.5 1085.5,707.9 1085.625,707.5 1085.75,706.4 1085.875,706.2 1086,708.2 1086.125,706.3 1086.25,706.6 1086.375,708 1086.5,707.9 1086.625,706.4 1086.75,707.9 1086.875,706.4 1087,707.1 1087.125,706.2 1087.25,707.3 1087.375,708.1 1087.5,707.1 1087.625,707.5 1087.75,708.2 1087.875,706.6 1088,706.4 1088.125,706.1 1088.25,706.8 1088.375,706.9 1088.5,707.8 1088.625,706.2 1088.75,706.6 1088.875,706.8 1089,706.8 1089.125,706.5 1089.25,707.6 1089.375,708 1089.5,706.3 1089.625,708.2 1089.75,707.6 1089.875,707.1 1090,708.1 1090.125,707.5 1090.25,706.3 1090.375,706.8 1090.5,706.9 1090.625,708.1 1090.75,707.2 1090.875,707.8 1091,707.2 1091.125,707.2 1091.25,707.2 1091.375,707.6 1091.5,706.5 1091.625,707.2 1091.75,706.3 1091.875,707.5 1092,707.9 1092.125,707.6 1092.25,706.5 1092.375,707.6 1092.5,706.6 1092.625,707 1092.75,707.8 1092.875,707.9 1093,708.2 1093.125,707.5 1093.25,706.9 1093.375,707.7 1093.5,706.3 1093.625,708.3 1093.75,706.6 1093.875,708 1094,706.3 1094.125,708.3 1094.25,706.5 1094.375,707.6 1094.5,707.7 1094.625,708.2 1094.75,707.9 1094.875,707.4 1095,706.2 1095.125,706.2 1095.25,708.2 1095.375,707.2 1095.5,708.3 1095.625,708.1 1095.75,707.2 1095.875,707.4 1096,706.7 1096.125,706.7 1096.25,708.3 1096.375,707.3 1096.5,707 1096.625,706.9 1096.75,707.2 1096.875,707.2 1097,707.1 1097.125,707.5 1097.25,707.1 1097.375,706.5 1097.5,707.5 1097.625,707.2 1097.75,707.2 1097.875,706.3 1098,707.6 1098.125,707.2 1098.25,706.6 1098.375,707.4 1098.5,706.4 1098.625,707 1098.75,707.9 1098.875,707.3 1099,707.9 1099.125,707.5 1099.25,707.7 1099.375,707.9 1099.5,706.9 1099.625,706.7 1099.75,707.1 1099.875,707.1 1100,706.8 1100.125,706.7 1100.25,708.2 1100.375,706.7 1100.5,708.1 1100.625,707.8 1100.75,706.6 1100.875,707.9 1101,706.2 1101.125,706.3 1101.25,708.2 1101.375,706.8 1101.5,706.2 1101.625,707.1 1101.75,707.2 1101.875,707 1102,707.1 1102.125,706.9 1102.25,706.8 1102.375,706.2 1102.5,708.2 1102.625,708 1102.75,708.4 1102.875,708.3 1103,708.1 1103.125,706.6 1103.25,707.8 1103.375,707.3 1103.5,707.9 1103.625,706.6 1103.75,708.3 1103.875,707.9 1104,707.9 1104.125,708.1 1104.25,708.4 1104.375,707.9 1104.5,708.2 1104.625,708.6 1104.75,706.8 1104.875,707.9 1105,708.6 1105.125,707.3 1105.25,707.6 1105.375,707.1 1105.5,707.8 1105.625,708.3 1105.75,707.3 1105.875,707.6 1106,706.7 1106.125,707.9 1106.25,708 1106.375,708.1 1106.5,707.9 1106.625,708 1106.75,707.3 1106.875,707.7 1107,706.4 1107.125,708 1107.25,706.4 1107.375,707.7 1107.5,707.3 1107.625,706.3 1107.75,706.7 1107.875,706.3 1108,707.2 1108.125,707.6 1108.25,706.8 1108.375,706.8 1108.5,708.2 1108.625,708.1 1108.75,706.2 1108.875,706.7 1109,706.5 1109.125,707.8 1109.25,706.1 1109.375,707.5 1109.5,707.9 1109.625,707.5 1109.75,707.6 1109.875,708.2 1110,706.4 1110.125,706.4 1110.25,707.9 1110.375,707.1 1110.5,706.5 1110.625,707.6 1110.75,707.3 1110.875,707.9 1111,707.5 1111.125,707.8 1111.25,706.8 1111.375,708.1 1111.5,708.4 1111.625,706.6 1111.75,708.1 1111.875,707.3 1112,706.9 1112.125,707.7 1112.25,706.5 1112.375,707.7 1112.5,707.9 1112.625,708.2 1112.75,706.3 1112.875,707.8 1113,706.4 1113.125,707.3 1113.25,706.4 1113.375,708.2 1113.5,706.5 1113.625,706.3 1113.75,706.8 1113.875,708 1114,706.2 1114.125,706.7 1114.25,707.9 1114.375,706.4 1114.5,708.2 1114.625,708 1114.75,708.2 1114.875,706.9 1115,707.3 1115.125,707.9 1115.25,707.1 1115.375,706.3 1115.5,708 1115.625,706.8 1115.75,708 1115.875,707.2 1116,707.7 1116.125,707.9 1116.25,708.5 1116.375,707.3 1116.5,707.8 1116.625,707.2 1116.75,708.3 1116.875,706.6 1117,708.6 1117.125,708.2 1117.25,707.1 1117.375,708.1 1117.5,707.7 1117.625,707.2 1117.75,706.7 1117.875,706.4 1118,707.5 1118.125,706.9 1118.25,708.2 1118.375,706.4" fill="none" stroke="#000" stroke-width="1.0" stroke-linejoin="round"/>
<path d="M545.35,348.8V309.3M548.3,352.8V311.3M559.05,333.8V90.3M766.4,377.8V286.3M898.5,701.8V637.3" fill="none" stroke="#2b2b2b" stroke-width="1.05"/>
<g stroke="#3a3a3a" stroke-width="1.3" fill="none">
<path d="M26.5,775.4H1118.8"/>
<path d="M1123.6,26.0V771.2"/>
</g>
<g stroke="#3a3a3a" stroke-width="1.1" fill="none">
<path d="M1110.2,775.4v6.5M1083.8,775.4v3.5M1057.3,775.4v6.5M1030.9,775.4v3.5M1004.5,775.4v6.5M978.1,775.4v3.5M951.6,775.4v6.5M925.2,775.4v3.5M898.8,775.4v6.5M872.4,775.4v3.5M846.0,775.4v6.5M819.5,775.4v3.5M793.1,775.4v6.5M766.7,775.4v3.5M740.3,775.4v6.5M713.8,775.4v3.5M687.4,775.4v6.5M661.0,775.4v3.5M634.6,775.4v6.5M608.2,775.4v3.5M581.7,775.4v6.5M555.3,775.4v3.5M528.9,775.4v6.5M502.5,775.4v3.5M476.0,775.4v6.5M449.6,775.4v3.5M423.2,775.4v6.5M396.8,775.4v3.5M370.3,775.4v6.5M343.9,775.4v3.5M317.5,775.4v6.5M291.1,775.4v3.5M264.7,775.4v6.5M238.2,775.4v3.5M211.8,775.4v6.5M185.4,775.4v3.5M159.0,775.4v6.5M132.5,775.4v3.5M106.1,775.4v6.5M79.7,775.4v3.5M53.3,775.4v6.5M26.9,775.4v3.5"/>
<path d="M1123.6,766.5h6.2M1123.6,736.9h3.2M1123.6,707.3h6.2M1123.6,677.7h3.2M1123.6,648.1h6.2M1123.6,618.5h3.2M1123.6,588.9h6.2M1123.6,559.4h3.2M1123.6,529.8h6.2M1123.6,500.2h3.2M1123.6,470.6h6.2M1123.6,441.0h3.2M1123.6,411.4h6.2M1123.6,381.8h3.2M1123.6,352.2h6.2M1123.6,322.7h3.2M1123.6,293.1h6.2M1123.6,263.5h3.2M1123.6,233.9h6.2M1123.6,204.3h3.2M1123.6,174.7h6.2M1123.6,145.1h3.2M1123.6,115.5h6.2M1123.6,86.0h3.2M1123.6,56.4h6.2M1123.6,26.8h3.2"/>
</g>
<text class="ax" transform="translate(1110.2,797.3) scale(0.53,1)" text-anchor="middle">-4</text>
<text class="ax" transform="translate(1057.3,797.3) scale(0.53,1)" text-anchor="middle">-3</text>
<text class="ax" transform="translate(1004.5,797.3) scale(0.53,1)" text-anchor="middle">-2</text>
<text class="ax" transform="translate(951.6,797.3) scale(0.53,1)" text-anchor="middle">-1</text>
<text class="ax" transform="translate(898.8,797.3) scale(0.53,1)" text-anchor="middle">0</text>
<text class="ax" transform="translate(846.0,797.3) scale(0.53,1)" text-anchor="middle">1</text>
<text class="ax" transform="translate(793.1,797.3) scale(0.53,1)" text-anchor="middle">2</text>
<text class="ax" transform="translate(740.3,797.3) scale(0.53,1)" text-anchor="middle">3</text>
<text class="ax" transform="translate(687.4,797.3) scale(0.53,1)" text-anchor="middle">4</text>
<text class="ax" transform="translate(634.6,797.3) scale(0.53,1)" text-anchor="middle">5</text>
<text class="ax" transform="translate(581.7,797.3) scale(0.53,1)" text-anchor="middle">6</text>
<text class="ax" transform="translate(528.9,797.3) scale(0.53,1)" text-anchor="middle">7</text>
<text class="ax" transform="translate(476.0,797.3) scale(0.53,1)" text-anchor="middle">8</text>
<text class="ax" transform="translate(423.2,797.3) scale(0.53,1)" text-anchor="middle">9</text>
<text class="ax" transform="translate(370.3,797.3) scale(0.53,1)" text-anchor="middle">10</text>
<text class="ax" transform="translate(317.5,797.3) scale(0.53,1)" text-anchor="middle">11</text>
<text class="ax" transform="translate(264.7,797.3) scale(0.53,1)" text-anchor="middle">12</text>
<text class="ax" transform="translate(211.8,797.3) scale(0.53,1)" text-anchor="middle">13</text>
<text class="ax" transform="translate(159.0,797.3) scale(0.53,1)" text-anchor="middle">14</text>
<text class="ax" transform="translate(106.1,797.3) scale(0.53,1)" text-anchor="middle">15</text>
<text class="ax" transform="translate(53.3,797.3) scale(0.53,1)" text-anchor="middle">16</text>
<text class="ax" transform="translate(572.6,808.0) scale(0.56,1)" text-anchor="middle" style="font-size:11.8px">f1 (ppm)</text>
<text class="ax" transform="translate(1130.8,771.3) scale(0.53,1)">-10</text>
<text class="ax" transform="translate(1130.8,712.1) scale(0.53,1)">0</text>
<text class="ax" transform="translate(1130.8,652.9) scale(0.53,1)">10</text>
<text class="ax" transform="translate(1130.8,593.7) scale(0.53,1)">20</text>
<text class="ax" transform="translate(1130.8,534.6) scale(0.53,1)">30</text>
<text class="ax" transform="translate(1130.8,475.4) scale(0.53,1)">40</text>
<text class="ax" transform="translate(1130.8,416.2) scale(0.53,1)">50</text>
<text class="ax" transform="translate(1130.8,357.0) scale(0.53,1)">60</text>
<text class="ax" transform="translate(1130.8,297.9) scale(0.53,1)">70</text>
<text class="ax" transform="translate(1130.8,238.7) scale(0.53,1)">80</text>
<text class="ax" transform="translate(1130.8,179.5) scale(0.53,1)">90</text>
<text class="ax" transform="translate(1130.8,120.3) scale(0.53,1)">100</text>
<text class="ax" transform="translate(1130.8,61.2) scale(0.53,1)">110</text>
<g stroke="#1e1e1e" stroke-width="1.1" fill="none">
<path d="M391.1,61.4V74.8"/>
<path d="M654.6,61.4V74.8"/>
<path d="M721.1,61.4V74.8"/>
<path d="M898.3,61.4V74.8"/>
<path d="M474.5,61.4V64.6L547.4,71.8V74.8"/>
<path d="M493.6,61.4V64.6L547.4,71.8V74.8"/>
<path d="M512.4,61.4V64.6L547.4,71.8V74.8"/>
<path d="M531.4,61.4V64.6L547.4,71.8V74.8"/>
<path d="M550.3,61.4V64.6L547.4,71.8V74.8"/>
<path d="M569.3,61.4V64.6L558.9,71.8V74.8"/>
<path d="M588.1,61.4V64.6L558.9,71.8V74.8"/>
<path d="M607.0,61.4V64.6L558.9,71.8V74.8"/>
<path d="M746.6,61.4V64.6L766.2,71.8V74.8"/>
<path d="M766.2,61.4V64.6L766.2,71.8V74.8"/>
<path d="M785.8,61.4V64.6L766.2,71.8V74.8"/>
</g>
<text class="pk" transform="translate(397.0,61.2) rotate(-90) scale(0.93,1)">9.61</text>
<text class="pk" transform="translate(480.4,59.9) rotate(-90) scale(0.93,1)">6.69</text>
<text class="pk" transform="translate(499.5,59.9) rotate(-90) scale(0.93,1)">6.65</text>
<text class="pk" transform="translate(518.3,59.9) rotate(-90) scale(0.93,1)">6.65</text>
<text class="pk" transform="translate(537.3,59.9) rotate(-90) scale(0.93,1)">6.64</text>
<text class="pk" transform="translate(556.2,59.9) rotate(-90) scale(0.93,1)">6.63</text>
<text class="pk" transform="translate(575.2,59.9) rotate(-90) scale(0.93,1)">6.45</text>
<text class="pk" transform="translate(594.0,59.9) rotate(-90) scale(0.93,1)">6.43</text>
<text class="pk" transform="translate(612.9,59.9) rotate(-90) scale(0.93,1)">6.42</text>
<text class="pk" transform="translate(660.5,61.2) rotate(-90) scale(0.93,1)">4.62</text>
<text class="pk" transform="translate(727.0,61.2) rotate(-90) scale(0.93,1)">3.36</text>
<text class="pk" transform="translate(752.5,59.9) rotate(-90) scale(0.93,1)">2.51</text>
<text class="pk" transform="translate(772.1,59.9) rotate(-90) scale(0.93,1)">2.51</text>
<text class="pk" transform="translate(791.7,59.9) rotate(-90) scale(0.93,1)">2.51</text>
<text class="pk" transform="translate(904.2,61.2) rotate(-90) scale(0.93,1)">0.01</text>
<g stroke="#3f963f" stroke-width="1" fill="none">
<path d="M383.4,728.1H399.2M383.4,724.8v6.6M399.2,724.8v6.6"/>
<path d="M535.4,728.1H553.0M535.4,724.8v6.6M553.0,724.8v6.6"/>
<path d="M554.3,728.1H566.1M554.3,724.8v6.6M566.1,724.8v6.6"/>
<path d="M638.8,728.1H683.5M638.8,724.8v6.6M683.5,724.8v6.6"/>
<path d="M827.8,728.1H837.6M827.8,724.8v6.6M837.6,724.8v6.6"/>
</g>
<g stroke="#1e1e1e" stroke-width="1.1" fill="none">
<path d="M391.3,728.1L391.2,736.6"/>
<path d="M544.2,728.1L542.4,736.6"/>
<path d="M560.2,728.1L561.0,736.6"/>
<path d="M661.1,728.1L661.6,736.6"/>
<path d="M832.7,728.1L832.9,736.6"/>
</g>
<text class="pk" transform="translate(396.8,767.4) rotate(-90) scale(0.95,1)">1.03</text>
<text class="pk" transform="translate(548.0,767.4) rotate(-90) scale(0.95,1)">2.00</text>
<text class="pk" transform="translate(566.6,767.4) rotate(-90) scale(0.95,1)">1.00</text>
<text class="pk" transform="translate(667.2,767.4) rotate(-90) scale(0.95,1)">1.76</text>
<text class="pk" transform="translate(838.5,767.4) rotate(-90) scale(0.95,1)">0.07</text>
</svg></body></html>
